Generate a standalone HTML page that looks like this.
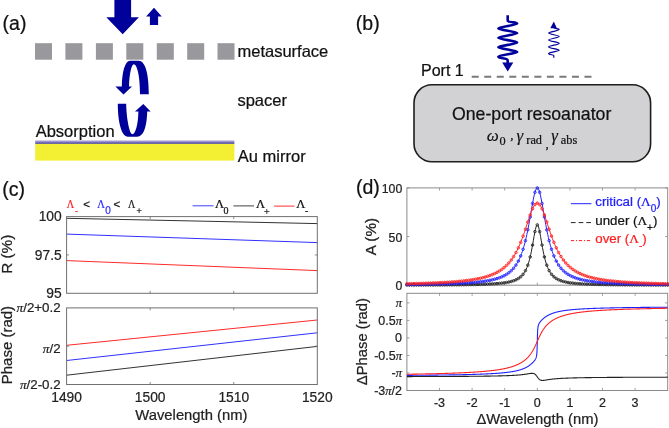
<!DOCTYPE html>
<html><head><meta charset="utf-8"><style>
html,body{margin:0;padding:0;background:#fff;width:669px;height:428px;overflow:hidden}
svg{display:block;will-change:transform}

</style></head><body>
<svg width="669" height="428" viewBox="0 0 669 428">
<text x="2.60" y="29.90" font-size="19.5" fill="#111" text-anchor="start" font-family="Liberation Sans, sans-serif"  stroke="#111" stroke-width="0.22">(a)</text>
<path d="M114.4,0 L131.1,0 L131.1,17.2 L138.9,17.2 L122.7,34.2 L106.3,17.2 L114.4,17.2 Z" fill="#00009a"/>
<path d="M154,7.8 L161.8,16.4 L158.1,16.4 L158.1,24.9 L149.9,24.9 L149.9,16.4 L146.1,16.4 Z" fill="#00009a"/>
<rect x="35" y="43.2" width="17" height="16.5" fill="#98989d"/>
<rect x="65.4" y="43.2" width="17" height="16.5" fill="#98989d"/>
<rect x="95.9" y="43.2" width="17" height="16.5" fill="#98989d"/>
<rect x="126.3" y="43.2" width="17" height="16.5" fill="#98989d"/>
<rect x="156.8" y="43.2" width="17" height="16.5" fill="#98989d"/>
<rect x="187.2" y="43.2" width="17" height="16.5" fill="#98989d"/>
<rect x="217.5" y="43.2" width="17" height="16.5" fill="#98989d"/>
<text x="237.50" y="56.60" font-size="16.5" fill="#111" text-anchor="start" font-family="Liberation Sans, sans-serif"  stroke="#111" stroke-width="0.22">metasurface</text>
<path d="M148.8,94.3 C148.8,74 145.5,60.7 138.5,60.7 L130,60.7 C125,60.9 122,72 121.8,86.4 L115.4,86.4 L123.5,94.5 L132,86.4 L129,86.4 C129.3,74 131.5,64.2 133.8,64.2 C136.8,64.2 140,75 140,94.3 Z" fill="#00009a"/>
<path d="M117.8,103.7 L126.2,103.7 C126.4,118 129.5,134.2 132.4,134.2 C135.5,134.2 138.2,124 138.4,111.5 L135,111.5 L143.3,103.9 L150.7,111.5 L147.2,111.5 C146.8,126 144,136.7 137,136.7 L128,136.7 C121.5,136.7 117.8,122 117.8,103.7 Z" fill="#00009a"/>
<text x="237.40" y="105.90" font-size="16.5" fill="#111" text-anchor="start" font-family="Liberation Sans, sans-serif"  stroke="#111" stroke-width="0.22">spacer</text>
<text x="35.70" y="137.00" font-size="16.5" fill="#111" text-anchor="start" font-family="Liberation Sans, sans-serif"  stroke="#111" stroke-width="0.22">Absorption</text>
<defs><linearGradient id="ab" x1="0" y1="0" x2="0" y2="1"><stop offset="0" stop-color="#efe8f2"/><stop offset="0.45" stop-color="#9088c8"/><stop offset="1" stop-color="#3a3a96"/></linearGradient></defs>
<rect x="35.2" y="140" width="199.2" height="3.9" fill="url(#ab)"/>
<rect x="35.2" y="143.9" width="199.2" height="16.7" fill="#f3ef32"/>
<text x="237.80" y="161.90" font-size="16.5" fill="#111" text-anchor="start" font-family="Liberation Sans, sans-serif"  stroke="#111" stroke-width="0.22">Au mirror</text>
<text x="355.80" y="30.00" font-size="19.5" fill="#111" text-anchor="start" font-family="Liberation Sans, sans-serif"  stroke="#111" stroke-width="0.22">(b)</text>
<path d="M507.7,15.3 L507.7,20.5 C507.7,23 517.2,21.5 517.2,23.6 C517.2,25.1 498.3,26.9 498.3,28.4 C498.3,29.9 517.2,31.6 517.2,33.1 C517.2,34.6 498.3,36.3 498.3,37.8 C498.3,39.3 517.2,41.0 517.2,42.5 C517.2,44.0 498.3,45.7 498.3,47.2 C498.3,48.7 517.2,50.4 517.2,51.9 C517.2,53.4 498.3,55.1 498.3,56.6 C498.3,59 507.7,57.5 507.7,60.5 L507.7,63" fill="none" stroke="#00009a" stroke-width="2.6" stroke-linejoin="round"/>
<path d="M502.2,62.4 L513.3,62.4 L507.7,71.6 Z" fill="#00009a"/>
<path d="M553.8,27.5 C553.8,29 559.2,28.3 559.2,29.6 C559.2,30.7 548.6,31.9 548.6,33.0 C548.6,34.1 559.2,35.4 559.2,36.5 C559.2,37.6 548.6,38.9 548.6,40.0 C548.6,41.1 559.2,42.3 559.2,43.4 C559.2,44.5 548.6,45.8 548.6,46.9 C548.6,48.0 559.2,49.2 559.2,50.3 C559.2,51.4 548.6,52.4 548.6,53.5 C548.6,55 553.8,54.5 553.8,55.5 L553.8,57.8" fill="none" stroke="#00009a" stroke-width="1.2"/>
<path d="M550.3,28.2 L556.9,28.2 L553.8,21.6 Z" fill="#00009a"/>
<text x="421.00" y="75.80" font-size="16" fill="#111" text-anchor="start" font-family="Liberation Sans, sans-serif"  stroke="#111" stroke-width="0.22">Port 1</text>
<line x1="471.7" y1="76.8" x2="592" y2="76.8" stroke="#7a7a7a" stroke-width="2" stroke-dasharray="7 5.53"/>
<rect x="414" y="84.8" width="236.6" height="77" rx="18" ry="18" fill="#d2d1d3" stroke="#1e1e1e" stroke-width="1.6"/>
<text x="452.00" y="120.40" font-size="17.7" fill="#111" text-anchor="start" font-family="Liberation Sans, sans-serif"  stroke="#111" stroke-width="0.22">One-port resoanator</text>
<text x="486.80" y="140.80" font-size="17" fill="#111" text-anchor="start" font-family="Liberation Serif, serif" font-style="italic" stroke="#111" stroke-width="0.15">ω</text>
<text x="499.40" y="144.60" font-size="12.3" fill="#111" text-anchor="start" font-family="Liberation Serif, serif"  stroke="#111" stroke-width="0.22">0</text>
<text x="510.30" y="138.60" font-size="13" fill="#111" text-anchor="start" font-family="Liberation Serif, serif"  stroke="#111" stroke-width="0.22">,</text>
<text x="516.60" y="140.80" font-size="17" fill="#111" text-anchor="start" font-family="Liberation Serif, serif" font-style="italic" stroke="#111" stroke-width="0.15">γ</text>
<text x="526.30" y="144.10" font-size="12.3" fill="#111" text-anchor="start" font-family="Liberation Serif, serif"  stroke="#111" stroke-width="0.22">rad</text>
<text x="545.50" y="147.50" font-size="13" fill="#111" text-anchor="start" font-family="Liberation Serif, serif"  stroke="#111" stroke-width="0.22">,</text>
<text x="551.20" y="140.80" font-size="17" fill="#111" text-anchor="start" font-family="Liberation Serif, serif" font-style="italic" stroke="#111" stroke-width="0.15">γ</text>
<text x="560.80" y="144.10" font-size="12.3" fill="#111" text-anchor="start" font-family="Liberation Serif, serif"  stroke="#111" stroke-width="0.22">abs</text>
<text x="2.20" y="196.30" font-size="19.5" fill="#111" text-anchor="start" font-family="Liberation Sans, sans-serif"  stroke="#111" stroke-width="0.22">(c)</text>
<text x="66.80" y="207.70" font-size="13" fill="#ff2020" text-anchor="start" font-family="Liberation Serif, serif" textLength="7.4" lengthAdjust="spacingAndGlyphs" stroke="#ff2020" stroke-width="0.22">Λ</text>
<text x="75.00" y="214.30" font-size="9" fill="#ff2020" text-anchor="start" font-family="Liberation Sans, sans-serif"  stroke="#ff2020" stroke-width="0.22">-</text>
<text x="83.20" y="208.30" font-size="11.5" fill="#111" text-anchor="start" font-family="Liberation Sans, sans-serif"  stroke="#111" stroke-width="0.22">&lt;</text>
<text x="97.20" y="207.80" font-size="13" fill="#2b2bff" text-anchor="start" font-family="Liberation Serif, serif" textLength="7.6" lengthAdjust="spacingAndGlyphs" stroke="#2b2bff" stroke-width="0.22">Λ</text>
<text x="105.30" y="214.30" font-size="10" fill="#2b2bff" text-anchor="start" font-family="Liberation Sans, sans-serif"  stroke="#2b2bff" stroke-width="0.22">0</text>
<text x="113.40" y="208.30" font-size="11.5" fill="#111" text-anchor="start" font-family="Liberation Sans, sans-serif"  stroke="#111" stroke-width="0.22">&lt;</text>
<text x="128.00" y="207.80" font-size="13" fill="#222" text-anchor="start" font-family="Liberation Serif, serif" textLength="7.3" lengthAdjust="spacingAndGlyphs" stroke="#222" stroke-width="0.22">Λ</text>
<text x="136.40" y="213.60" font-size="9" fill="#222" text-anchor="start" font-family="Liberation Sans, sans-serif"  stroke="#222" stroke-width="0.22">+</text>
<line x1="192.6" y1="205.8" x2="213.5" y2="205.8" stroke="#4040ff" stroke-width="1"/>
<text x="215.00" y="207.90" font-size="12.5" fill="#111" text-anchor="start" font-family="Liberation Serif, serif"  stroke="#111" stroke-width="0.22">Λ</text>
<text x="223.60" y="213.70" font-size="10" fill="#111" text-anchor="start" font-family="Liberation Serif, serif"  stroke="#111" stroke-width="0.22">0</text>
<line x1="233.4" y1="205.9" x2="254" y2="205.9" stroke="#444" stroke-width="1"/>
<text x="256.00" y="207.90" font-size="12.5" fill="#111" text-anchor="start" font-family="Liberation Serif, serif"  stroke="#111" stroke-width="0.22">Λ</text>
<text x="264.00" y="214.80" font-size="10" fill="#111" text-anchor="start" font-family="Liberation Serif, serif"  stroke="#111" stroke-width="0.22">+</text>
<line x1="274.1" y1="206.1" x2="294.5" y2="206.1" stroke="#ff3030" stroke-width="1"/>
<text x="296.20" y="207.90" font-size="12.5" fill="#111" text-anchor="start" font-family="Liberation Serif, serif"  stroke="#111" stroke-width="0.22">Λ</text>
<text x="305.00" y="214.00" font-size="10" fill="#111" text-anchor="start" font-family="Liberation Serif, serif"  stroke="#111" stroke-width="0.22">-</text>
<line x1="66.6" y1="218.3" x2="317.3" y2="223.6" stroke="#333" stroke-width="1"/>
<line x1="66.6" y1="234.1" x2="317.3" y2="242.6" stroke="#3030ff" stroke-width="1"/>
<line x1="66.6" y1="260.6" x2="317.3" y2="270.6" stroke="#ff2a2a" stroke-width="1"/>
<rect x="66.6" y="216.6" width="250.70000000000002" height="76.70000000000002" fill="none" stroke="#707070" stroke-width="1"/>
<line x1="150.17" y1="293.3" x2="150.17" y2="290.8" stroke="#707070" stroke-width="0.8"/>
<line x1="150.17" y1="216.6" x2="150.17" y2="219.1" stroke="#707070" stroke-width="0.8"/>
<line x1="233.73" y1="293.3" x2="233.73" y2="290.8" stroke="#707070" stroke-width="0.8"/>
<line x1="233.73" y1="216.6" x2="233.73" y2="219.1" stroke="#707070" stroke-width="0.8"/>
<line x1="66.6" y1="254.95" x2="69.1" y2="254.95" stroke="#707070" stroke-width="0.8"/>
<line x1="317.3" y1="254.95" x2="314.8" y2="254.95" stroke="#707070" stroke-width="0.8"/>
<text x="61.70" y="221.30" font-size="13.8" fill="#222" text-anchor="end" font-family="Liberation Sans, sans-serif"  stroke="#222" stroke-width="0.22">100</text>
<text x="61.70" y="260.00" font-size="13.8" fill="#222" text-anchor="end" font-family="Liberation Sans, sans-serif"  stroke="#222" stroke-width="0.22">97.5</text>
<text x="61.70" y="298.40" font-size="13.8" fill="#222" text-anchor="end" font-family="Liberation Sans, sans-serif"  stroke="#222" stroke-width="0.22">95</text>
<text transform="translate(11.9,254.3) rotate(-90)" font-size="15.3" fill="#222" stroke="#222" stroke-width="0.22" text-anchor="middle" font-family="Liberation Sans, sans-serif">R (%)</text>
<line x1="66.6" y1="345.3" x2="317.3" y2="320.0" stroke="#ff2a2a" stroke-width="1"/>
<line x1="66.6" y1="360.5" x2="317.3" y2="332.8" stroke="#3030ff" stroke-width="1"/>
<line x1="66.6" y1="375.2" x2="317.3" y2="346.4" stroke="#333" stroke-width="1"/>
<rect x="66.6" y="307.9" width="250.70000000000002" height="76.60000000000002" fill="none" stroke="#707070" stroke-width="1"/>
<line x1="150.17" y1="384.5" x2="150.17" y2="382.0" stroke="#707070" stroke-width="0.8"/>
<line x1="150.17" y1="307.9" x2="150.17" y2="310.4" stroke="#707070" stroke-width="0.8"/>
<line x1="233.73" y1="384.5" x2="233.73" y2="382.0" stroke="#707070" stroke-width="0.8"/>
<line x1="233.73" y1="307.9" x2="233.73" y2="310.4" stroke="#707070" stroke-width="0.8"/>
<line x1="66.6" y1="346.20" x2="69.1" y2="346.20" stroke="#707070" stroke-width="0.8"/>
<line x1="317.3" y1="346.20" x2="314.8" y2="346.20" stroke="#707070" stroke-width="0.8"/>
<text x="60.60" y="312.30" font-size="13.3" fill="#222" text-anchor="end" font-family="Liberation Sans, sans-serif"  stroke="#222" stroke-width="0.22"><tspan font-family="Liberation Serif, serif" font-style="italic">π</tspan>/2+0.2</text>
<text x="60.60" y="353.10" font-size="13.3" fill="#222" text-anchor="end" font-family="Liberation Sans, sans-serif"  stroke="#222" stroke-width="0.22"><tspan font-family="Liberation Serif, serif" font-style="italic">π</tspan>/2</text>
<text x="60.60" y="389.20" font-size="13.3" fill="#222" text-anchor="end" font-family="Liberation Sans, sans-serif"  stroke="#222" stroke-width="0.22"><tspan font-family="Liberation Serif, serif" font-style="italic">π</tspan>/2-0.2</text>
<text transform="translate(11.8,345.1) rotate(-90)" font-size="15" fill="#222" stroke="#222" stroke-width="0.22" text-anchor="middle" font-family="Liberation Sans, sans-serif">Phase (rad)</text>
<text x="66.60" y="402.00" font-size="13.8" fill="#222" text-anchor="middle" font-family="Liberation Sans, sans-serif"  stroke="#222" stroke-width="0.22">1490</text>
<text x="150.17" y="402.00" font-size="13.8" fill="#222" text-anchor="middle" font-family="Liberation Sans, sans-serif"  stroke="#222" stroke-width="0.22">1500</text>
<text x="233.73" y="402.00" font-size="13.8" fill="#222" text-anchor="middle" font-family="Liberation Sans, sans-serif"  stroke="#222" stroke-width="0.22">1510</text>
<text x="317.30" y="402.00" font-size="13.8" fill="#222" text-anchor="middle" font-family="Liberation Sans, sans-serif"  stroke="#222" stroke-width="0.22">1520</text>
<text x="191.40" y="419.60" font-size="14.8" fill="#222" text-anchor="middle" font-family="Liberation Sans, sans-serif"  stroke="#222" stroke-width="0.22">Wavelength (nm)</text>
<text x="356.00" y="194.00" font-size="19.5" fill="#111" text-anchor="start" font-family="Liberation Sans, sans-serif"  stroke="#111" stroke-width="0.22">(d)</text>
<rect x="406.9" y="187.9" width="260.80000000000007" height="97.29999999999998" fill="none" stroke="#8a8a8a" stroke-width="1"/>
<rect x="406.9" y="293.3" width="260.80000000000007" height="97.19999999999999" fill="none" stroke="#8a8a8a" stroke-width="1"/>
<line x1="439.50" y1="285.2" x2="439.50" y2="282.59999999999997" stroke="#8a8a8a" stroke-width="0.8"/>
<line x1="439.50" y1="187.9" x2="439.50" y2="190.5" stroke="#8a8a8a" stroke-width="0.8"/>
<line x1="439.50" y1="390.5" x2="439.50" y2="387.9" stroke="#8a8a8a" stroke-width="0.8"/>
<line x1="439.50" y1="293.3" x2="439.50" y2="295.90000000000003" stroke="#8a8a8a" stroke-width="0.8"/>
<text x="439.50" y="406.90" font-size="12.5" fill="#222" text-anchor="middle" font-family="Liberation Sans, sans-serif"  stroke="#222" stroke-width="0.22">-3</text>
<line x1="472.10" y1="285.2" x2="472.10" y2="282.59999999999997" stroke="#8a8a8a" stroke-width="0.8"/>
<line x1="472.10" y1="187.9" x2="472.10" y2="190.5" stroke="#8a8a8a" stroke-width="0.8"/>
<line x1="472.10" y1="390.5" x2="472.10" y2="387.9" stroke="#8a8a8a" stroke-width="0.8"/>
<line x1="472.10" y1="293.3" x2="472.10" y2="295.90000000000003" stroke="#8a8a8a" stroke-width="0.8"/>
<text x="472.10" y="406.90" font-size="12.5" fill="#222" text-anchor="middle" font-family="Liberation Sans, sans-serif"  stroke="#222" stroke-width="0.22">-2</text>
<line x1="504.70" y1="285.2" x2="504.70" y2="282.59999999999997" stroke="#8a8a8a" stroke-width="0.8"/>
<line x1="504.70" y1="187.9" x2="504.70" y2="190.5" stroke="#8a8a8a" stroke-width="0.8"/>
<line x1="504.70" y1="390.5" x2="504.70" y2="387.9" stroke="#8a8a8a" stroke-width="0.8"/>
<line x1="504.70" y1="293.3" x2="504.70" y2="295.90000000000003" stroke="#8a8a8a" stroke-width="0.8"/>
<text x="504.70" y="406.90" font-size="12.5" fill="#222" text-anchor="middle" font-family="Liberation Sans, sans-serif"  stroke="#222" stroke-width="0.22">-1</text>
<line x1="537.30" y1="285.2" x2="537.30" y2="282.59999999999997" stroke="#8a8a8a" stroke-width="0.8"/>
<line x1="537.30" y1="187.9" x2="537.30" y2="190.5" stroke="#8a8a8a" stroke-width="0.8"/>
<line x1="537.30" y1="390.5" x2="537.30" y2="387.9" stroke="#8a8a8a" stroke-width="0.8"/>
<line x1="537.30" y1="293.3" x2="537.30" y2="295.90000000000003" stroke="#8a8a8a" stroke-width="0.8"/>
<text x="537.30" y="406.90" font-size="12.5" fill="#222" text-anchor="middle" font-family="Liberation Sans, sans-serif"  stroke="#222" stroke-width="0.22">0</text>
<line x1="569.90" y1="285.2" x2="569.90" y2="282.59999999999997" stroke="#8a8a8a" stroke-width="0.8"/>
<line x1="569.90" y1="187.9" x2="569.90" y2="190.5" stroke="#8a8a8a" stroke-width="0.8"/>
<line x1="569.90" y1="390.5" x2="569.90" y2="387.9" stroke="#8a8a8a" stroke-width="0.8"/>
<line x1="569.90" y1="293.3" x2="569.90" y2="295.90000000000003" stroke="#8a8a8a" stroke-width="0.8"/>
<text x="569.90" y="406.90" font-size="12.5" fill="#222" text-anchor="middle" font-family="Liberation Sans, sans-serif"  stroke="#222" stroke-width="0.22">1</text>
<line x1="602.50" y1="285.2" x2="602.50" y2="282.59999999999997" stroke="#8a8a8a" stroke-width="0.8"/>
<line x1="602.50" y1="187.9" x2="602.50" y2="190.5" stroke="#8a8a8a" stroke-width="0.8"/>
<line x1="602.50" y1="390.5" x2="602.50" y2="387.9" stroke="#8a8a8a" stroke-width="0.8"/>
<line x1="602.50" y1="293.3" x2="602.50" y2="295.90000000000003" stroke="#8a8a8a" stroke-width="0.8"/>
<text x="602.50" y="406.90" font-size="12.5" fill="#222" text-anchor="middle" font-family="Liberation Sans, sans-serif"  stroke="#222" stroke-width="0.22">2</text>
<line x1="635.10" y1="285.2" x2="635.10" y2="282.59999999999997" stroke="#8a8a8a" stroke-width="0.8"/>
<line x1="635.10" y1="187.9" x2="635.10" y2="190.5" stroke="#8a8a8a" stroke-width="0.8"/>
<line x1="635.10" y1="390.5" x2="635.10" y2="387.9" stroke="#8a8a8a" stroke-width="0.8"/>
<line x1="635.10" y1="293.3" x2="635.10" y2="295.90000000000003" stroke="#8a8a8a" stroke-width="0.8"/>
<text x="635.10" y="406.90" font-size="12.5" fill="#222" text-anchor="middle" font-family="Liberation Sans, sans-serif"  stroke="#222" stroke-width="0.22">3</text>
<line x1="406.9" y1="285.20" x2="409.5" y2="285.20" stroke="#8a8a8a" stroke-width="0.8"/>
<line x1="667.7" y1="285.20" x2="665.1" y2="285.20" stroke="#8a8a8a" stroke-width="0.8"/>
<line x1="406.9" y1="236.55" x2="409.5" y2="236.55" stroke="#8a8a8a" stroke-width="0.8"/>
<line x1="667.7" y1="236.55" x2="665.1" y2="236.55" stroke="#8a8a8a" stroke-width="0.8"/>
<line x1="406.9" y1="187.90" x2="409.5" y2="187.90" stroke="#8a8a8a" stroke-width="0.8"/>
<line x1="667.7" y1="187.90" x2="665.1" y2="187.90" stroke="#8a8a8a" stroke-width="0.8"/>
<text x="402.30" y="192.50" font-size="12.3" fill="#222" text-anchor="end" font-family="Liberation Sans, sans-serif"  stroke="#222" stroke-width="0.22">100</text>
<text x="402.30" y="241.60" font-size="12.3" fill="#222" text-anchor="end" font-family="Liberation Sans, sans-serif"  stroke="#222" stroke-width="0.22">50</text>
<text x="402.30" y="289.80" font-size="12.3" fill="#222" text-anchor="end" font-family="Liberation Sans, sans-serif"  stroke="#222" stroke-width="0.22">0</text>
<text transform="translate(375.6,236.6) rotate(-90)" font-size="15.2" fill="#222" stroke="#222" stroke-width="0.22" text-anchor="middle" font-family="Liberation Sans, sans-serif">A (%)</text>
<line x1="406.9" y1="302.88" x2="409.5" y2="302.88" stroke="#8a8a8a" stroke-width="0.8"/>
<line x1="667.7" y1="302.88" x2="665.1" y2="302.88" stroke="#8a8a8a" stroke-width="0.8"/>
<text x="402.00" y="307.18" font-size="12.5" fill="#222" text-anchor="end" font-family="Liberation Sans, sans-serif"  stroke="#222" stroke-width="0.22"><tspan font-family="Liberation Serif, serif" font-style="italic">π</tspan></text>
<line x1="406.9" y1="320.40" x2="409.5" y2="320.40" stroke="#8a8a8a" stroke-width="0.8"/>
<line x1="667.7" y1="320.40" x2="665.1" y2="320.40" stroke="#8a8a8a" stroke-width="0.8"/>
<text x="402.00" y="324.70" font-size="12.5" fill="#222" text-anchor="end" font-family="Liberation Sans, sans-serif"  stroke="#222" stroke-width="0.22">0.5<tspan font-family="Liberation Serif, serif" font-style="italic">π</tspan></text>
<line x1="406.9" y1="337.93" x2="409.5" y2="337.93" stroke="#8a8a8a" stroke-width="0.8"/>
<line x1="667.7" y1="337.93" x2="665.1" y2="337.93" stroke="#8a8a8a" stroke-width="0.8"/>
<text x="402.00" y="342.23" font-size="12.5" fill="#222" text-anchor="end" font-family="Liberation Sans, sans-serif"  stroke="#222" stroke-width="0.22">0</text>
<line x1="406.9" y1="355.45" x2="409.5" y2="355.45" stroke="#8a8a8a" stroke-width="0.8"/>
<line x1="667.7" y1="355.45" x2="665.1" y2="355.45" stroke="#8a8a8a" stroke-width="0.8"/>
<text x="402.00" y="359.75" font-size="12.5" fill="#222" text-anchor="end" font-family="Liberation Sans, sans-serif"  stroke="#222" stroke-width="0.22">-0.5<tspan font-family="Liberation Serif, serif" font-style="italic">π</tspan></text>
<line x1="406.9" y1="372.98" x2="409.5" y2="372.98" stroke="#8a8a8a" stroke-width="0.8"/>
<line x1="667.7" y1="372.98" x2="665.1" y2="372.98" stroke="#8a8a8a" stroke-width="0.8"/>
<text x="402.00" y="377.28" font-size="12.5" fill="#222" text-anchor="end" font-family="Liberation Sans, sans-serif"  stroke="#222" stroke-width="0.22">-<tspan font-family="Liberation Serif, serif" font-style="italic">π</tspan></text>
<line x1="406.9" y1="390.50" x2="409.5" y2="390.50" stroke="#8a8a8a" stroke-width="0.8"/>
<line x1="667.7" y1="390.50" x2="665.1" y2="390.50" stroke="#8a8a8a" stroke-width="0.8"/>
<text x="402.00" y="394.80" font-size="12.5" fill="#222" text-anchor="end" font-family="Liberation Sans, sans-serif"  stroke="#222" stroke-width="0.22">-3<tspan font-family="Liberation Serif, serif" font-style="italic">π</tspan>/2</text>
<text transform="translate(367.0,341.6) rotate(-90)" font-size="14.8" fill="#222" stroke="#222" stroke-width="0.22" text-anchor="middle" font-family="Liberation Sans, sans-serif">ΔPhase (rad)</text>
<text x="537.40" y="423.80" font-size="14.8" fill="#222" text-anchor="middle" font-family="Liberation Sans, sans-serif"  stroke="#222" stroke-width="0.22">ΔWavelength (nm)</text>
<path d="M406.90,285.04 L407.55,285.04 L408.20,285.04 L408.86,285.04 L409.51,285.04 L410.16,285.03 L410.81,285.03 L411.46,285.03 L412.12,285.03 L412.77,285.03 L413.42,285.02 L414.07,285.02 L414.72,285.02 L415.38,285.02 L416.03,285.02 L416.68,285.02 L417.33,285.01 L417.98,285.01 L418.64,285.01 L419.29,285.01 L419.94,285.01 L420.59,285.00 L421.24,285.00 L421.90,285.00 L422.55,285.00 L423.20,284.99 L423.85,284.99 L424.50,284.99 L425.16,284.99 L425.81,284.98 L426.46,284.98 L427.11,284.98 L427.76,284.98 L428.42,284.97 L429.07,284.97 L429.72,284.97 L430.37,284.97 L431.02,284.96 L431.68,284.96 L432.33,284.96 L432.98,284.95 L433.63,284.95 L434.28,284.95 L434.94,284.94 L435.59,284.94 L436.24,284.94 L436.89,284.93 L437.54,284.93 L438.20,284.93 L438.85,284.92 L439.50,284.92 L440.15,284.92 L440.80,284.91 L441.46,284.91 L442.11,284.90 L442.76,284.90 L443.41,284.90 L444.06,284.89 L444.72,284.89 L445.37,284.88 L446.02,284.88 L446.67,284.87 L447.32,284.87 L447.98,284.86 L448.63,284.86 L449.28,284.85 L449.93,284.85 L450.58,284.84 L451.24,284.84 L451.89,284.83 L452.54,284.83 L453.19,284.82 L453.84,284.82 L454.50,284.81 L455.15,284.80 L455.80,284.80 L456.45,284.79 L457.10,284.78 L457.76,284.78 L458.41,284.77 L459.06,284.76 L459.71,284.76 L460.36,284.75 L461.02,284.74 L461.67,284.73 L462.32,284.72 L462.97,284.72 L463.62,284.71 L464.28,284.70 L464.93,284.69 L465.58,284.68 L466.23,284.67 L466.88,284.66 L467.54,284.65 L468.19,284.64 L468.84,284.63 L469.49,284.62 L470.14,284.61 L470.80,284.60 L471.45,284.59 L472.10,284.57 L472.75,284.56 L473.40,284.55 L474.06,284.53 L474.71,284.52 L475.36,284.51 L476.01,284.49 L476.66,284.48 L477.32,284.46 L477.97,284.44 L478.62,284.43 L479.27,284.41 L479.92,284.39 L480.58,284.37 L481.23,284.36 L481.88,284.34 L482.53,284.31 L483.18,284.29 L483.84,284.27 L484.49,284.25 L485.14,284.23 L485.79,284.20 L486.44,284.18 L487.10,284.15 L487.75,284.12 L488.40,284.09 L489.05,284.06 L489.70,284.03 L490.36,284.00 L491.01,283.97 L491.66,283.93 L492.31,283.90 L492.96,283.86 L493.62,283.82 L494.27,283.78 L494.92,283.74 L495.57,283.69 L496.22,283.64 L496.88,283.60 L497.53,283.54 L498.18,283.49 L498.83,283.43 L499.48,283.37 L500.14,283.31 L500.79,283.24 L501.44,283.18 L502.09,283.10 L502.74,283.03 L503.40,282.94 L504.05,282.86 L504.70,282.77 L505.35,282.67 L506.00,282.57 L506.66,282.46 L507.31,282.35 L507.96,282.22 L508.61,282.09 L509.26,281.96 L509.92,281.81 L510.57,281.65 L511.22,281.48 L511.87,281.30 L512.52,281.11 L513.18,280.90 L513.83,280.68 L514.48,280.43 L515.13,280.17 L515.78,279.89 L516.44,279.59 L517.09,279.25 L517.74,278.89 L518.39,278.50 L519.04,278.07 L519.70,277.60 L520.35,277.09 L521.00,276.52 L521.65,275.89 L522.30,275.20 L522.96,274.44 L523.61,273.59 L524.26,272.65 L524.91,271.60 L525.56,270.43 L526.22,269.12 L526.87,267.65 L527.52,266.00 L528.17,264.15 L528.82,262.07 L529.48,259.75 L530.13,257.16 L530.78,254.29 L531.43,251.14 L532.08,247.71 L532.74,244.06 L533.39,240.27 L534.04,236.47 L534.69,232.85 L535.34,229.63 L536.00,227.09 L536.65,225.44 L537.30,224.87 L537.95,225.44 L538.60,227.09 L539.26,229.63 L539.91,232.85 L540.56,236.47 L541.21,240.27 L541.86,244.06 L542.52,247.71 L543.17,251.14 L543.82,254.29 L544.47,257.16 L545.12,259.75 L545.78,262.07 L546.43,264.15 L547.08,266.00 L547.73,267.65 L548.38,269.12 L549.04,270.43 L549.69,271.60 L550.34,272.65 L550.99,273.59 L551.64,274.44 L552.30,275.20 L552.95,275.89 L553.60,276.52 L554.25,277.09 L554.90,277.60 L555.56,278.07 L556.21,278.50 L556.86,278.89 L557.51,279.25 L558.16,279.59 L558.82,279.89 L559.47,280.17 L560.12,280.43 L560.77,280.68 L561.42,280.90 L562.08,281.11 L562.73,281.30 L563.38,281.48 L564.03,281.65 L564.68,281.81 L565.34,281.96 L565.99,282.09 L566.64,282.22 L567.29,282.35 L567.94,282.46 L568.60,282.57 L569.25,282.67 L569.90,282.77 L570.55,282.86 L571.20,282.94 L571.86,283.03 L572.51,283.10 L573.16,283.18 L573.81,283.24 L574.46,283.31 L575.12,283.37 L575.77,283.43 L576.42,283.49 L577.07,283.54 L577.72,283.60 L578.38,283.64 L579.03,283.69 L579.68,283.74 L580.33,283.78 L580.98,283.82 L581.64,283.86 L582.29,283.90 L582.94,283.93 L583.59,283.97 L584.24,284.00 L584.90,284.03 L585.55,284.06 L586.20,284.09 L586.85,284.12 L587.50,284.15 L588.16,284.18 L588.81,284.20 L589.46,284.23 L590.11,284.25 L590.76,284.27 L591.42,284.29 L592.07,284.31 L592.72,284.34 L593.37,284.36 L594.02,284.37 L594.68,284.39 L595.33,284.41 L595.98,284.43 L596.63,284.44 L597.28,284.46 L597.94,284.48 L598.59,284.49 L599.24,284.51 L599.89,284.52 L600.54,284.53 L601.20,284.55 L601.85,284.56 L602.50,284.57 L603.15,284.59 L603.80,284.60 L604.46,284.61 L605.11,284.62 L605.76,284.63 L606.41,284.64 L607.06,284.65 L607.72,284.66 L608.37,284.67 L609.02,284.68 L609.67,284.69 L610.32,284.70 L610.98,284.71 L611.63,284.72 L612.28,284.72 L612.93,284.73 L613.58,284.74 L614.24,284.75 L614.89,284.76 L615.54,284.76 L616.19,284.77 L616.84,284.78 L617.50,284.78 L618.15,284.79 L618.80,284.80 L619.45,284.80 L620.10,284.81 L620.76,284.82 L621.41,284.82 L622.06,284.83 L622.71,284.83 L623.36,284.84 L624.02,284.84 L624.67,284.85 L625.32,284.85 L625.97,284.86 L626.62,284.86 L627.28,284.87 L627.93,284.87 L628.58,284.88 L629.23,284.88 L629.88,284.89 L630.54,284.89 L631.19,284.90 L631.84,284.90 L632.49,284.90 L633.14,284.91 L633.80,284.91 L634.45,284.92 L635.10,284.92 L635.75,284.92 L636.40,284.93 L637.06,284.93 L637.71,284.93 L638.36,284.94 L639.01,284.94 L639.66,284.94 L640.32,284.95 L640.97,284.95 L641.62,284.95 L642.27,284.96 L642.92,284.96 L643.58,284.96 L644.23,284.97 L644.88,284.97 L645.53,284.97 L646.18,284.97 L646.84,284.98 L647.49,284.98 L648.14,284.98 L648.79,284.98 L649.44,284.99 L650.10,284.99 L650.75,284.99 L651.40,284.99 L652.05,285.00 L652.70,285.00 L653.36,285.00 L654.01,285.00 L654.66,285.01 L655.31,285.01 L655.96,285.01 L656.62,285.01 L657.27,285.01 L657.92,285.02 L658.57,285.02 L659.22,285.02 L659.88,285.02 L660.53,285.02 L661.18,285.02 L661.83,285.03 L662.48,285.03 L663.14,285.03 L663.79,285.03 L664.44,285.03 L665.09,285.04 L665.74,285.04 L666.40,285.04 L667.05,285.04 L667.70,285.04" fill="none" stroke="#222222" stroke-width="1"/>
<circle cx="406.90" cy="285.04" r="1.25" fill="none" stroke="#222222" stroke-width="0.9"/>
<circle cx="409.27" cy="285.04" r="1.25" fill="none" stroke="#222222" stroke-width="0.9"/>
<circle cx="411.64" cy="285.03" r="1.25" fill="none" stroke="#222222" stroke-width="0.9"/>
<circle cx="414.01" cy="285.02" r="1.25" fill="none" stroke="#222222" stroke-width="0.9"/>
<circle cx="416.38" cy="285.02" r="1.25" fill="none" stroke="#222222" stroke-width="0.9"/>
<circle cx="418.75" cy="285.01" r="1.25" fill="none" stroke="#222222" stroke-width="0.9"/>
<circle cx="421.13" cy="285.00" r="1.25" fill="none" stroke="#222222" stroke-width="0.9"/>
<circle cx="423.50" cy="284.99" r="1.25" fill="none" stroke="#222222" stroke-width="0.9"/>
<circle cx="425.87" cy="284.98" r="1.25" fill="none" stroke="#222222" stroke-width="0.9"/>
<circle cx="428.24" cy="284.97" r="1.25" fill="none" stroke="#222222" stroke-width="0.9"/>
<circle cx="430.61" cy="284.96" r="1.25" fill="none" stroke="#222222" stroke-width="0.9"/>
<circle cx="432.98" cy="284.95" r="1.25" fill="none" stroke="#222222" stroke-width="0.9"/>
<circle cx="435.35" cy="284.94" r="1.25" fill="none" stroke="#222222" stroke-width="0.9"/>
<circle cx="437.72" cy="284.93" r="1.25" fill="none" stroke="#222222" stroke-width="0.9"/>
<circle cx="440.09" cy="284.92" r="1.25" fill="none" stroke="#222222" stroke-width="0.9"/>
<circle cx="442.46" cy="284.90" r="1.25" fill="none" stroke="#222222" stroke-width="0.9"/>
<circle cx="444.83" cy="284.89" r="1.25" fill="none" stroke="#222222" stroke-width="0.9"/>
<circle cx="447.21" cy="284.87" r="1.25" fill="none" stroke="#222222" stroke-width="0.9"/>
<circle cx="449.58" cy="284.85" r="1.25" fill="none" stroke="#222222" stroke-width="0.9"/>
<circle cx="451.95" cy="284.83" r="1.25" fill="none" stroke="#222222" stroke-width="0.9"/>
<circle cx="454.32" cy="284.81" r="1.25" fill="none" stroke="#222222" stroke-width="0.9"/>
<circle cx="456.69" cy="284.79" r="1.25" fill="none" stroke="#222222" stroke-width="0.9"/>
<circle cx="459.06" cy="284.76" r="1.25" fill="none" stroke="#222222" stroke-width="0.9"/>
<circle cx="461.43" cy="284.74" r="1.25" fill="none" stroke="#222222" stroke-width="0.9"/>
<circle cx="463.80" cy="284.71" r="1.25" fill="none" stroke="#222222" stroke-width="0.9"/>
<circle cx="466.17" cy="284.67" r="1.25" fill="none" stroke="#222222" stroke-width="0.9"/>
<circle cx="468.54" cy="284.64" r="1.25" fill="none" stroke="#222222" stroke-width="0.9"/>
<circle cx="470.91" cy="284.59" r="1.25" fill="none" stroke="#222222" stroke-width="0.9"/>
<circle cx="473.29" cy="284.55" r="1.25" fill="none" stroke="#222222" stroke-width="0.9"/>
<circle cx="475.66" cy="284.50" r="1.25" fill="none" stroke="#222222" stroke-width="0.9"/>
<circle cx="478.03" cy="284.44" r="1.25" fill="none" stroke="#222222" stroke-width="0.9"/>
<circle cx="480.40" cy="284.38" r="1.25" fill="none" stroke="#222222" stroke-width="0.9"/>
<circle cx="482.77" cy="284.31" r="1.25" fill="none" stroke="#222222" stroke-width="0.9"/>
<circle cx="485.14" cy="284.23" r="1.25" fill="none" stroke="#222222" stroke-width="0.9"/>
<circle cx="487.51" cy="284.13" r="1.25" fill="none" stroke="#222222" stroke-width="0.9"/>
<circle cx="489.88" cy="284.03" r="1.25" fill="none" stroke="#222222" stroke-width="0.9"/>
<circle cx="492.25" cy="283.90" r="1.25" fill="none" stroke="#222222" stroke-width="0.9"/>
<circle cx="494.62" cy="283.76" r="1.25" fill="none" stroke="#222222" stroke-width="0.9"/>
<circle cx="496.99" cy="283.59" r="1.25" fill="none" stroke="#222222" stroke-width="0.9"/>
<circle cx="499.37" cy="283.38" r="1.25" fill="none" stroke="#222222" stroke-width="0.9"/>
<circle cx="501.74" cy="283.14" r="1.25" fill="none" stroke="#222222" stroke-width="0.9"/>
<circle cx="504.11" cy="282.85" r="1.25" fill="none" stroke="#222222" stroke-width="0.9"/>
<circle cx="506.48" cy="282.49" r="1.25" fill="none" stroke="#222222" stroke-width="0.9"/>
<circle cx="508.85" cy="282.05" r="1.25" fill="none" stroke="#222222" stroke-width="0.9"/>
<circle cx="511.22" cy="281.48" r="1.25" fill="none" stroke="#222222" stroke-width="0.9"/>
<circle cx="513.59" cy="280.76" r="1.25" fill="none" stroke="#222222" stroke-width="0.9"/>
<circle cx="515.96" cy="279.81" r="1.25" fill="none" stroke="#222222" stroke-width="0.9"/>
<circle cx="518.33" cy="278.54" r="1.25" fill="none" stroke="#222222" stroke-width="0.9"/>
<circle cx="520.70" cy="276.78" r="1.25" fill="none" stroke="#222222" stroke-width="0.9"/>
<circle cx="523.07" cy="274.29" r="1.25" fill="none" stroke="#222222" stroke-width="0.9"/>
<circle cx="525.45" cy="270.65" r="1.25" fill="none" stroke="#222222" stroke-width="0.9"/>
<circle cx="527.82" cy="265.18" r="1.25" fill="none" stroke="#222222" stroke-width="0.9"/>
<circle cx="530.19" cy="256.91" r="1.25" fill="none" stroke="#222222" stroke-width="0.9"/>
<circle cx="532.56" cy="245.07" r="1.25" fill="none" stroke="#222222" stroke-width="0.9"/>
<circle cx="534.93" cy="231.62" r="1.25" fill="none" stroke="#222222" stroke-width="0.9"/>
<circle cx="537.30" cy="224.87" r="1.25" fill="none" stroke="#222222" stroke-width="0.9"/>
<circle cx="539.67" cy="231.62" r="1.25" fill="none" stroke="#222222" stroke-width="0.9"/>
<circle cx="542.04" cy="245.07" r="1.25" fill="none" stroke="#222222" stroke-width="0.9"/>
<circle cx="544.41" cy="256.91" r="1.25" fill="none" stroke="#222222" stroke-width="0.9"/>
<circle cx="546.78" cy="265.18" r="1.25" fill="none" stroke="#222222" stroke-width="0.9"/>
<circle cx="549.15" cy="270.65" r="1.25" fill="none" stroke="#222222" stroke-width="0.9"/>
<circle cx="551.53" cy="274.29" r="1.25" fill="none" stroke="#222222" stroke-width="0.9"/>
<circle cx="553.90" cy="276.78" r="1.25" fill="none" stroke="#222222" stroke-width="0.9"/>
<circle cx="556.27" cy="278.54" r="1.25" fill="none" stroke="#222222" stroke-width="0.9"/>
<circle cx="558.64" cy="279.81" r="1.25" fill="none" stroke="#222222" stroke-width="0.9"/>
<circle cx="561.01" cy="280.76" r="1.25" fill="none" stroke="#222222" stroke-width="0.9"/>
<circle cx="563.38" cy="281.48" r="1.25" fill="none" stroke="#222222" stroke-width="0.9"/>
<circle cx="565.75" cy="282.05" r="1.25" fill="none" stroke="#222222" stroke-width="0.9"/>
<circle cx="568.12" cy="282.49" r="1.25" fill="none" stroke="#222222" stroke-width="0.9"/>
<circle cx="570.49" cy="282.85" r="1.25" fill="none" stroke="#222222" stroke-width="0.9"/>
<circle cx="572.86" cy="283.14" r="1.25" fill="none" stroke="#222222" stroke-width="0.9"/>
<circle cx="575.23" cy="283.38" r="1.25" fill="none" stroke="#222222" stroke-width="0.9"/>
<circle cx="577.61" cy="283.59" r="1.25" fill="none" stroke="#222222" stroke-width="0.9"/>
<circle cx="579.98" cy="283.76" r="1.25" fill="none" stroke="#222222" stroke-width="0.9"/>
<circle cx="582.35" cy="283.90" r="1.25" fill="none" stroke="#222222" stroke-width="0.9"/>
<circle cx="584.72" cy="284.03" r="1.25" fill="none" stroke="#222222" stroke-width="0.9"/>
<circle cx="587.09" cy="284.13" r="1.25" fill="none" stroke="#222222" stroke-width="0.9"/>
<circle cx="589.46" cy="284.23" r="1.25" fill="none" stroke="#222222" stroke-width="0.9"/>
<circle cx="591.83" cy="284.31" r="1.25" fill="none" stroke="#222222" stroke-width="0.9"/>
<circle cx="594.20" cy="284.38" r="1.25" fill="none" stroke="#222222" stroke-width="0.9"/>
<circle cx="596.57" cy="284.44" r="1.25" fill="none" stroke="#222222" stroke-width="0.9"/>
<circle cx="598.94" cy="284.50" r="1.25" fill="none" stroke="#222222" stroke-width="0.9"/>
<circle cx="601.31" cy="284.55" r="1.25" fill="none" stroke="#222222" stroke-width="0.9"/>
<circle cx="603.69" cy="284.59" r="1.25" fill="none" stroke="#222222" stroke-width="0.9"/>
<circle cx="606.06" cy="284.64" r="1.25" fill="none" stroke="#222222" stroke-width="0.9"/>
<circle cx="608.43" cy="284.67" r="1.25" fill="none" stroke="#222222" stroke-width="0.9"/>
<circle cx="610.80" cy="284.71" r="1.25" fill="none" stroke="#222222" stroke-width="0.9"/>
<circle cx="613.17" cy="284.74" r="1.25" fill="none" stroke="#222222" stroke-width="0.9"/>
<circle cx="615.54" cy="284.76" r="1.25" fill="none" stroke="#222222" stroke-width="0.9"/>
<circle cx="617.91" cy="284.79" r="1.25" fill="none" stroke="#222222" stroke-width="0.9"/>
<circle cx="620.28" cy="284.81" r="1.25" fill="none" stroke="#222222" stroke-width="0.9"/>
<circle cx="622.65" cy="284.83" r="1.25" fill="none" stroke="#222222" stroke-width="0.9"/>
<circle cx="625.02" cy="284.85" r="1.25" fill="none" stroke="#222222" stroke-width="0.9"/>
<circle cx="627.39" cy="284.87" r="1.25" fill="none" stroke="#222222" stroke-width="0.9"/>
<circle cx="629.77" cy="284.89" r="1.25" fill="none" stroke="#222222" stroke-width="0.9"/>
<circle cx="632.14" cy="284.90" r="1.25" fill="none" stroke="#222222" stroke-width="0.9"/>
<circle cx="634.51" cy="284.92" r="1.25" fill="none" stroke="#222222" stroke-width="0.9"/>
<circle cx="636.88" cy="284.93" r="1.25" fill="none" stroke="#222222" stroke-width="0.9"/>
<circle cx="639.25" cy="284.94" r="1.25" fill="none" stroke="#222222" stroke-width="0.9"/>
<circle cx="641.62" cy="284.95" r="1.25" fill="none" stroke="#222222" stroke-width="0.9"/>
<circle cx="643.99" cy="284.96" r="1.25" fill="none" stroke="#222222" stroke-width="0.9"/>
<circle cx="646.36" cy="284.97" r="1.25" fill="none" stroke="#222222" stroke-width="0.9"/>
<circle cx="648.73" cy="284.98" r="1.25" fill="none" stroke="#222222" stroke-width="0.9"/>
<circle cx="651.10" cy="284.99" r="1.25" fill="none" stroke="#222222" stroke-width="0.9"/>
<circle cx="653.47" cy="285.00" r="1.25" fill="none" stroke="#222222" stroke-width="0.9"/>
<circle cx="655.85" cy="285.01" r="1.25" fill="none" stroke="#222222" stroke-width="0.9"/>
<circle cx="658.22" cy="285.02" r="1.25" fill="none" stroke="#222222" stroke-width="0.9"/>
<circle cx="660.59" cy="285.02" r="1.25" fill="none" stroke="#222222" stroke-width="0.9"/>
<circle cx="662.96" cy="285.03" r="1.25" fill="none" stroke="#222222" stroke-width="0.9"/>
<circle cx="665.33" cy="285.04" r="1.25" fill="none" stroke="#222222" stroke-width="0.9"/>
<circle cx="667.70" cy="285.04" r="1.25" fill="none" stroke="#222222" stroke-width="0.9"/>
<path d="M406.90,284.53 L407.55,284.52 L408.20,284.51 L408.86,284.51 L409.51,284.50 L410.16,284.49 L410.81,284.48 L411.46,284.48 L412.12,284.47 L412.77,284.46 L413.42,284.45 L414.07,284.45 L414.72,284.44 L415.38,284.43 L416.03,284.42 L416.68,284.41 L417.33,284.41 L417.98,284.40 L418.64,284.39 L419.29,284.38 L419.94,284.37 L420.59,284.36 L421.24,284.35 L421.90,284.34 L422.55,284.33 L423.20,284.32 L423.85,284.31 L424.50,284.30 L425.16,284.29 L425.81,284.28 L426.46,284.27 L427.11,284.26 L427.76,284.25 L428.42,284.24 L429.07,284.23 L429.72,284.21 L430.37,284.20 L431.02,284.19 L431.68,284.18 L432.33,284.16 L432.98,284.15 L433.63,284.14 L434.28,284.13 L434.94,284.11 L435.59,284.10 L436.24,284.08 L436.89,284.07 L437.54,284.05 L438.20,284.04 L438.85,284.02 L439.50,284.01 L440.15,283.99 L440.80,283.98 L441.46,283.96 L442.11,283.94 L442.76,283.93 L443.41,283.91 L444.06,283.89 L444.72,283.87 L445.37,283.85 L446.02,283.83 L446.67,283.82 L447.32,283.80 L447.98,283.78 L448.63,283.75 L449.28,283.73 L449.93,283.71 L450.58,283.69 L451.24,283.67 L451.89,283.64 L452.54,283.62 L453.19,283.60 L453.84,283.57 L454.50,283.55 L455.15,283.52 L455.80,283.49 L456.45,283.47 L457.10,283.44 L457.76,283.41 L458.41,283.38 L459.06,283.35 L459.71,283.32 L460.36,283.29 L461.02,283.26 L461.67,283.22 L462.32,283.19 L462.97,283.16 L463.62,283.12 L464.28,283.08 L464.93,283.05 L465.58,283.01 L466.23,282.97 L466.88,282.93 L467.54,282.89 L468.19,282.84 L468.84,282.80 L469.49,282.75 L470.14,282.71 L470.80,282.66 L471.45,282.61 L472.10,282.56 L472.75,282.51 L473.40,282.45 L474.06,282.40 L474.71,282.34 L475.36,282.28 L476.01,282.22 L476.66,282.16 L477.32,282.10 L477.97,282.03 L478.62,281.96 L479.27,281.89 L479.92,281.82 L480.58,281.74 L481.23,281.66 L481.88,281.58 L482.53,281.50 L483.18,281.41 L483.84,281.33 L484.49,281.23 L485.14,281.14 L485.79,281.04 L486.44,280.94 L487.10,280.83 L487.75,280.72 L488.40,280.60 L489.05,280.48 L489.70,280.36 L490.36,280.23 L491.01,280.10 L491.66,279.96 L492.31,279.82 L492.96,279.67 L493.62,279.51 L494.27,279.35 L494.92,279.17 L495.57,279.00 L496.22,278.81 L496.88,278.62 L497.53,278.42 L498.18,278.20 L498.83,277.98 L499.48,277.75 L500.14,277.51 L500.79,277.25 L501.44,276.99 L502.09,276.71 L502.74,276.41 L503.40,276.10 L504.05,275.78 L504.70,275.43 L505.35,275.07 L506.00,274.69 L506.66,274.29 L507.31,273.87 L507.96,273.42 L508.61,272.95 L509.26,272.45 L509.92,271.92 L510.57,271.35 L511.22,270.76 L511.87,270.12 L512.52,269.45 L513.18,268.73 L513.83,267.97 L514.48,267.16 L515.13,266.29 L515.78,265.36 L516.44,264.37 L517.09,263.31 L517.74,262.18 L518.39,260.97 L519.04,259.67 L519.70,258.28 L520.35,256.78 L521.00,255.18 L521.65,253.46 L522.30,251.61 L522.96,249.63 L523.61,247.51 L524.26,245.23 L524.91,242.79 L525.56,240.19 L526.22,237.42 L526.87,234.47 L527.52,231.35 L528.17,228.06 L528.82,224.61 L529.48,221.03 L530.13,217.34 L530.78,213.58 L531.43,209.80 L532.08,206.06 L532.74,202.44 L533.39,199.02 L534.04,195.90 L534.69,193.18 L535.34,190.94 L536.00,189.28 L536.65,188.25 L537.30,187.90 L537.95,188.25 L538.60,189.28 L539.26,190.94 L539.91,193.18 L540.56,195.90 L541.21,199.02 L541.86,202.44 L542.52,206.06 L543.17,209.80 L543.82,213.58 L544.47,217.34 L545.12,221.03 L545.78,224.61 L546.43,228.06 L547.08,231.35 L547.73,234.47 L548.38,237.42 L549.04,240.19 L549.69,242.79 L550.34,245.23 L550.99,247.51 L551.64,249.63 L552.30,251.61 L552.95,253.46 L553.60,255.18 L554.25,256.78 L554.90,258.28 L555.56,259.67 L556.21,260.97 L556.86,262.18 L557.51,263.31 L558.16,264.37 L558.82,265.36 L559.47,266.29 L560.12,267.16 L560.77,267.97 L561.42,268.73 L562.08,269.45 L562.73,270.12 L563.38,270.76 L564.03,271.35 L564.68,271.92 L565.34,272.45 L565.99,272.95 L566.64,273.42 L567.29,273.87 L567.94,274.29 L568.60,274.69 L569.25,275.07 L569.90,275.43 L570.55,275.78 L571.20,276.10 L571.86,276.41 L572.51,276.71 L573.16,276.99 L573.81,277.25 L574.46,277.51 L575.12,277.75 L575.77,277.98 L576.42,278.20 L577.07,278.42 L577.72,278.62 L578.38,278.81 L579.03,279.00 L579.68,279.17 L580.33,279.35 L580.98,279.51 L581.64,279.67 L582.29,279.82 L582.94,279.96 L583.59,280.10 L584.24,280.23 L584.90,280.36 L585.55,280.48 L586.20,280.60 L586.85,280.72 L587.50,280.83 L588.16,280.94 L588.81,281.04 L589.46,281.14 L590.11,281.23 L590.76,281.33 L591.42,281.41 L592.07,281.50 L592.72,281.58 L593.37,281.66 L594.02,281.74 L594.68,281.82 L595.33,281.89 L595.98,281.96 L596.63,282.03 L597.28,282.10 L597.94,282.16 L598.59,282.22 L599.24,282.28 L599.89,282.34 L600.54,282.40 L601.20,282.45 L601.85,282.51 L602.50,282.56 L603.15,282.61 L603.80,282.66 L604.46,282.71 L605.11,282.75 L605.76,282.80 L606.41,282.84 L607.06,282.89 L607.72,282.93 L608.37,282.97 L609.02,283.01 L609.67,283.05 L610.32,283.08 L610.98,283.12 L611.63,283.16 L612.28,283.19 L612.93,283.22 L613.58,283.26 L614.24,283.29 L614.89,283.32 L615.54,283.35 L616.19,283.38 L616.84,283.41 L617.50,283.44 L618.15,283.47 L618.80,283.49 L619.45,283.52 L620.10,283.55 L620.76,283.57 L621.41,283.60 L622.06,283.62 L622.71,283.64 L623.36,283.67 L624.02,283.69 L624.67,283.71 L625.32,283.73 L625.97,283.75 L626.62,283.78 L627.28,283.80 L627.93,283.82 L628.58,283.83 L629.23,283.85 L629.88,283.87 L630.54,283.89 L631.19,283.91 L631.84,283.93 L632.49,283.94 L633.14,283.96 L633.80,283.98 L634.45,283.99 L635.10,284.01 L635.75,284.02 L636.40,284.04 L637.06,284.05 L637.71,284.07 L638.36,284.08 L639.01,284.10 L639.66,284.11 L640.32,284.13 L640.97,284.14 L641.62,284.15 L642.27,284.16 L642.92,284.18 L643.58,284.19 L644.23,284.20 L644.88,284.21 L645.53,284.23 L646.18,284.24 L646.84,284.25 L647.49,284.26 L648.14,284.27 L648.79,284.28 L649.44,284.29 L650.10,284.30 L650.75,284.31 L651.40,284.32 L652.05,284.33 L652.70,284.34 L653.36,284.35 L654.01,284.36 L654.66,284.37 L655.31,284.38 L655.96,284.39 L656.62,284.40 L657.27,284.41 L657.92,284.41 L658.57,284.42 L659.22,284.43 L659.88,284.44 L660.53,284.45 L661.18,284.45 L661.83,284.46 L662.48,284.47 L663.14,284.48 L663.79,284.48 L664.44,284.49 L665.09,284.50 L665.74,284.51 L666.40,284.51 L667.05,284.52 L667.70,284.53" fill="none" stroke="#2020ff" stroke-width="1"/>
<circle cx="406.90" cy="284.53" r="1.25" fill="none" stroke="#2020ff" stroke-width="0.9"/>
<circle cx="409.27" cy="284.50" r="1.25" fill="none" stroke="#2020ff" stroke-width="0.9"/>
<circle cx="411.64" cy="284.47" r="1.25" fill="none" stroke="#2020ff" stroke-width="0.9"/>
<circle cx="414.01" cy="284.45" r="1.25" fill="none" stroke="#2020ff" stroke-width="0.9"/>
<circle cx="416.38" cy="284.42" r="1.25" fill="none" stroke="#2020ff" stroke-width="0.9"/>
<circle cx="418.75" cy="284.39" r="1.25" fill="none" stroke="#2020ff" stroke-width="0.9"/>
<circle cx="421.13" cy="284.35" r="1.25" fill="none" stroke="#2020ff" stroke-width="0.9"/>
<circle cx="423.50" cy="284.32" r="1.25" fill="none" stroke="#2020ff" stroke-width="0.9"/>
<circle cx="425.87" cy="284.28" r="1.25" fill="none" stroke="#2020ff" stroke-width="0.9"/>
<circle cx="428.24" cy="284.24" r="1.25" fill="none" stroke="#2020ff" stroke-width="0.9"/>
<circle cx="430.61" cy="284.20" r="1.25" fill="none" stroke="#2020ff" stroke-width="0.9"/>
<circle cx="432.98" cy="284.15" r="1.25" fill="none" stroke="#2020ff" stroke-width="0.9"/>
<circle cx="435.35" cy="284.10" r="1.25" fill="none" stroke="#2020ff" stroke-width="0.9"/>
<circle cx="437.72" cy="284.05" r="1.25" fill="none" stroke="#2020ff" stroke-width="0.9"/>
<circle cx="440.09" cy="283.99" r="1.25" fill="none" stroke="#2020ff" stroke-width="0.9"/>
<circle cx="442.46" cy="283.93" r="1.25" fill="none" stroke="#2020ff" stroke-width="0.9"/>
<circle cx="444.83" cy="283.87" r="1.25" fill="none" stroke="#2020ff" stroke-width="0.9"/>
<circle cx="447.21" cy="283.80" r="1.25" fill="none" stroke="#2020ff" stroke-width="0.9"/>
<circle cx="449.58" cy="283.72" r="1.25" fill="none" stroke="#2020ff" stroke-width="0.9"/>
<circle cx="451.95" cy="283.64" r="1.25" fill="none" stroke="#2020ff" stroke-width="0.9"/>
<circle cx="454.32" cy="283.55" r="1.25" fill="none" stroke="#2020ff" stroke-width="0.9"/>
<circle cx="456.69" cy="283.46" r="1.25" fill="none" stroke="#2020ff" stroke-width="0.9"/>
<circle cx="459.06" cy="283.35" r="1.25" fill="none" stroke="#2020ff" stroke-width="0.9"/>
<circle cx="461.43" cy="283.24" r="1.25" fill="none" stroke="#2020ff" stroke-width="0.9"/>
<circle cx="463.80" cy="283.11" r="1.25" fill="none" stroke="#2020ff" stroke-width="0.9"/>
<circle cx="466.17" cy="282.97" r="1.25" fill="none" stroke="#2020ff" stroke-width="0.9"/>
<circle cx="468.54" cy="282.82" r="1.25" fill="none" stroke="#2020ff" stroke-width="0.9"/>
<circle cx="470.91" cy="282.65" r="1.25" fill="none" stroke="#2020ff" stroke-width="0.9"/>
<circle cx="473.29" cy="282.46" r="1.25" fill="none" stroke="#2020ff" stroke-width="0.9"/>
<circle cx="475.66" cy="282.26" r="1.25" fill="none" stroke="#2020ff" stroke-width="0.9"/>
<circle cx="478.03" cy="282.02" r="1.25" fill="none" stroke="#2020ff" stroke-width="0.9"/>
<circle cx="480.40" cy="281.76" r="1.25" fill="none" stroke="#2020ff" stroke-width="0.9"/>
<circle cx="482.77" cy="281.47" r="1.25" fill="none" stroke="#2020ff" stroke-width="0.9"/>
<circle cx="485.14" cy="281.14" r="1.25" fill="none" stroke="#2020ff" stroke-width="0.9"/>
<circle cx="487.51" cy="280.76" r="1.25" fill="none" stroke="#2020ff" stroke-width="0.9"/>
<circle cx="489.88" cy="280.33" r="1.25" fill="none" stroke="#2020ff" stroke-width="0.9"/>
<circle cx="492.25" cy="279.83" r="1.25" fill="none" stroke="#2020ff" stroke-width="0.9"/>
<circle cx="494.62" cy="279.25" r="1.25" fill="none" stroke="#2020ff" stroke-width="0.9"/>
<circle cx="496.99" cy="278.58" r="1.25" fill="none" stroke="#2020ff" stroke-width="0.9"/>
<circle cx="499.37" cy="277.79" r="1.25" fill="none" stroke="#2020ff" stroke-width="0.9"/>
<circle cx="501.74" cy="276.86" r="1.25" fill="none" stroke="#2020ff" stroke-width="0.9"/>
<circle cx="504.11" cy="275.75" r="1.25" fill="none" stroke="#2020ff" stroke-width="0.9"/>
<circle cx="506.48" cy="274.40" r="1.25" fill="none" stroke="#2020ff" stroke-width="0.9"/>
<circle cx="508.85" cy="272.77" r="1.25" fill="none" stroke="#2020ff" stroke-width="0.9"/>
<circle cx="511.22" cy="270.76" r="1.25" fill="none" stroke="#2020ff" stroke-width="0.9"/>
<circle cx="513.59" cy="268.25" r="1.25" fill="none" stroke="#2020ff" stroke-width="0.9"/>
<circle cx="515.96" cy="265.10" r="1.25" fill="none" stroke="#2020ff" stroke-width="0.9"/>
<circle cx="518.33" cy="261.08" r="1.25" fill="none" stroke="#2020ff" stroke-width="0.9"/>
<circle cx="520.70" cy="255.92" r="1.25" fill="none" stroke="#2020ff" stroke-width="0.9"/>
<circle cx="523.07" cy="249.25" r="1.25" fill="none" stroke="#2020ff" stroke-width="0.9"/>
<circle cx="525.45" cy="240.68" r="1.25" fill="none" stroke="#2020ff" stroke-width="0.9"/>
<circle cx="527.82" cy="229.87" r="1.25" fill="none" stroke="#2020ff" stroke-width="0.9"/>
<circle cx="530.19" cy="217.00" r="1.25" fill="none" stroke="#2020ff" stroke-width="0.9"/>
<circle cx="532.56" cy="203.41" r="1.25" fill="none" stroke="#2020ff" stroke-width="0.9"/>
<circle cx="534.93" cy="192.30" r="1.25" fill="none" stroke="#2020ff" stroke-width="0.9"/>
<circle cx="537.30" cy="187.90" r="1.25" fill="none" stroke="#2020ff" stroke-width="0.9"/>
<circle cx="539.67" cy="192.30" r="1.25" fill="none" stroke="#2020ff" stroke-width="0.9"/>
<circle cx="542.04" cy="203.41" r="1.25" fill="none" stroke="#2020ff" stroke-width="0.9"/>
<circle cx="544.41" cy="217.00" r="1.25" fill="none" stroke="#2020ff" stroke-width="0.9"/>
<circle cx="546.78" cy="229.87" r="1.25" fill="none" stroke="#2020ff" stroke-width="0.9"/>
<circle cx="549.15" cy="240.68" r="1.25" fill="none" stroke="#2020ff" stroke-width="0.9"/>
<circle cx="551.53" cy="249.25" r="1.25" fill="none" stroke="#2020ff" stroke-width="0.9"/>
<circle cx="553.90" cy="255.92" r="1.25" fill="none" stroke="#2020ff" stroke-width="0.9"/>
<circle cx="556.27" cy="261.08" r="1.25" fill="none" stroke="#2020ff" stroke-width="0.9"/>
<circle cx="558.64" cy="265.10" r="1.25" fill="none" stroke="#2020ff" stroke-width="0.9"/>
<circle cx="561.01" cy="268.25" r="1.25" fill="none" stroke="#2020ff" stroke-width="0.9"/>
<circle cx="563.38" cy="270.76" r="1.25" fill="none" stroke="#2020ff" stroke-width="0.9"/>
<circle cx="565.75" cy="272.77" r="1.25" fill="none" stroke="#2020ff" stroke-width="0.9"/>
<circle cx="568.12" cy="274.40" r="1.25" fill="none" stroke="#2020ff" stroke-width="0.9"/>
<circle cx="570.49" cy="275.75" r="1.25" fill="none" stroke="#2020ff" stroke-width="0.9"/>
<circle cx="572.86" cy="276.86" r="1.25" fill="none" stroke="#2020ff" stroke-width="0.9"/>
<circle cx="575.23" cy="277.79" r="1.25" fill="none" stroke="#2020ff" stroke-width="0.9"/>
<circle cx="577.61" cy="278.58" r="1.25" fill="none" stroke="#2020ff" stroke-width="0.9"/>
<circle cx="579.98" cy="279.25" r="1.25" fill="none" stroke="#2020ff" stroke-width="0.9"/>
<circle cx="582.35" cy="279.83" r="1.25" fill="none" stroke="#2020ff" stroke-width="0.9"/>
<circle cx="584.72" cy="280.33" r="1.25" fill="none" stroke="#2020ff" stroke-width="0.9"/>
<circle cx="587.09" cy="280.76" r="1.25" fill="none" stroke="#2020ff" stroke-width="0.9"/>
<circle cx="589.46" cy="281.14" r="1.25" fill="none" stroke="#2020ff" stroke-width="0.9"/>
<circle cx="591.83" cy="281.47" r="1.25" fill="none" stroke="#2020ff" stroke-width="0.9"/>
<circle cx="594.20" cy="281.76" r="1.25" fill="none" stroke="#2020ff" stroke-width="0.9"/>
<circle cx="596.57" cy="282.02" r="1.25" fill="none" stroke="#2020ff" stroke-width="0.9"/>
<circle cx="598.94" cy="282.26" r="1.25" fill="none" stroke="#2020ff" stroke-width="0.9"/>
<circle cx="601.31" cy="282.46" r="1.25" fill="none" stroke="#2020ff" stroke-width="0.9"/>
<circle cx="603.69" cy="282.65" r="1.25" fill="none" stroke="#2020ff" stroke-width="0.9"/>
<circle cx="606.06" cy="282.82" r="1.25" fill="none" stroke="#2020ff" stroke-width="0.9"/>
<circle cx="608.43" cy="282.97" r="1.25" fill="none" stroke="#2020ff" stroke-width="0.9"/>
<circle cx="610.80" cy="283.11" r="1.25" fill="none" stroke="#2020ff" stroke-width="0.9"/>
<circle cx="613.17" cy="283.24" r="1.25" fill="none" stroke="#2020ff" stroke-width="0.9"/>
<circle cx="615.54" cy="283.35" r="1.25" fill="none" stroke="#2020ff" stroke-width="0.9"/>
<circle cx="617.91" cy="283.46" r="1.25" fill="none" stroke="#2020ff" stroke-width="0.9"/>
<circle cx="620.28" cy="283.55" r="1.25" fill="none" stroke="#2020ff" stroke-width="0.9"/>
<circle cx="622.65" cy="283.64" r="1.25" fill="none" stroke="#2020ff" stroke-width="0.9"/>
<circle cx="625.02" cy="283.72" r="1.25" fill="none" stroke="#2020ff" stroke-width="0.9"/>
<circle cx="627.39" cy="283.80" r="1.25" fill="none" stroke="#2020ff" stroke-width="0.9"/>
<circle cx="629.77" cy="283.87" r="1.25" fill="none" stroke="#2020ff" stroke-width="0.9"/>
<circle cx="632.14" cy="283.93" r="1.25" fill="none" stroke="#2020ff" stroke-width="0.9"/>
<circle cx="634.51" cy="283.99" r="1.25" fill="none" stroke="#2020ff" stroke-width="0.9"/>
<circle cx="636.88" cy="284.05" r="1.25" fill="none" stroke="#2020ff" stroke-width="0.9"/>
<circle cx="639.25" cy="284.10" r="1.25" fill="none" stroke="#2020ff" stroke-width="0.9"/>
<circle cx="641.62" cy="284.15" r="1.25" fill="none" stroke="#2020ff" stroke-width="0.9"/>
<circle cx="643.99" cy="284.20" r="1.25" fill="none" stroke="#2020ff" stroke-width="0.9"/>
<circle cx="646.36" cy="284.24" r="1.25" fill="none" stroke="#2020ff" stroke-width="0.9"/>
<circle cx="648.73" cy="284.28" r="1.25" fill="none" stroke="#2020ff" stroke-width="0.9"/>
<circle cx="651.10" cy="284.32" r="1.25" fill="none" stroke="#2020ff" stroke-width="0.9"/>
<circle cx="653.47" cy="284.35" r="1.25" fill="none" stroke="#2020ff" stroke-width="0.9"/>
<circle cx="655.85" cy="284.39" r="1.25" fill="none" stroke="#2020ff" stroke-width="0.9"/>
<circle cx="658.22" cy="284.42" r="1.25" fill="none" stroke="#2020ff" stroke-width="0.9"/>
<circle cx="660.59" cy="284.45" r="1.25" fill="none" stroke="#2020ff" stroke-width="0.9"/>
<circle cx="662.96" cy="284.47" r="1.25" fill="none" stroke="#2020ff" stroke-width="0.9"/>
<circle cx="665.33" cy="284.50" r="1.25" fill="none" stroke="#2020ff" stroke-width="0.9"/>
<circle cx="667.70" cy="284.53" r="1.25" fill="none" stroke="#2020ff" stroke-width="0.9"/>
<path d="M406.90,283.77 L407.55,283.76 L408.20,283.74 L408.86,283.73 L409.51,283.71 L410.16,283.70 L410.81,283.68 L411.46,283.67 L412.12,283.65 L412.77,283.64 L413.42,283.62 L414.07,283.60 L414.72,283.59 L415.38,283.57 L416.03,283.55 L416.68,283.54 L417.33,283.52 L417.98,283.50 L418.64,283.48 L419.29,283.46 L419.94,283.44 L420.59,283.43 L421.24,283.41 L421.90,283.39 L422.55,283.37 L423.20,283.35 L423.85,283.32 L424.50,283.30 L425.16,283.28 L425.81,283.26 L426.46,283.24 L427.11,283.21 L427.76,283.19 L428.42,283.17 L429.07,283.14 L429.72,283.12 L430.37,283.09 L431.02,283.07 L431.68,283.04 L432.33,283.02 L432.98,282.99 L433.63,282.96 L434.28,282.94 L434.94,282.91 L435.59,282.88 L436.24,282.85 L436.89,282.82 L437.54,282.79 L438.20,282.76 L438.85,282.73 L439.50,282.70 L440.15,282.66 L440.80,282.63 L441.46,282.60 L442.11,282.56 L442.76,282.53 L443.41,282.49 L444.06,282.45 L444.72,282.42 L445.37,282.38 L446.02,282.34 L446.67,282.30 L447.32,282.26 L447.98,282.22 L448.63,282.17 L449.28,282.13 L449.93,282.09 L450.58,282.04 L451.24,282.00 L451.89,281.95 L452.54,281.90 L453.19,281.85 L453.84,281.80 L454.50,281.75 L455.15,281.70 L455.80,281.64 L456.45,281.59 L457.10,281.53 L457.76,281.47 L458.41,281.41 L459.06,281.35 L459.71,281.29 L460.36,281.23 L461.02,281.16 L461.67,281.10 L462.32,281.03 L462.97,280.96 L463.62,280.89 L464.28,280.82 L464.93,280.74 L465.58,280.66 L466.23,280.58 L466.88,280.50 L467.54,280.42 L468.19,280.33 L468.84,280.25 L469.49,280.16 L470.14,280.07 L470.80,279.97 L471.45,279.87 L472.10,279.77 L472.75,279.67 L473.40,279.56 L474.06,279.46 L474.71,279.34 L475.36,279.23 L476.01,279.11 L476.66,278.99 L477.32,278.86 L477.97,278.74 L478.62,278.60 L479.27,278.47 L479.92,278.32 L480.58,278.18 L481.23,278.03 L481.88,277.88 L482.53,277.72 L483.18,277.55 L483.84,277.38 L484.49,277.21 L485.14,277.02 L485.79,276.84 L486.44,276.64 L487.10,276.44 L487.75,276.24 L488.40,276.02 L489.05,275.80 L489.70,275.57 L490.36,275.34 L491.01,275.09 L491.66,274.84 L492.31,274.57 L492.96,274.30 L493.62,274.02 L494.27,273.72 L494.92,273.42 L495.57,273.10 L496.22,272.78 L496.88,272.43 L497.53,272.08 L498.18,271.71 L498.83,271.33 L499.48,270.93 L500.14,270.51 L500.79,270.08 L501.44,269.63 L502.09,269.16 L502.74,268.68 L503.40,268.17 L504.05,267.64 L504.70,267.08 L505.35,266.51 L506.00,265.91 L506.66,265.28 L507.31,264.62 L507.96,263.94 L508.61,263.22 L509.26,262.47 L509.92,261.69 L510.57,260.87 L511.22,260.02 L511.87,259.13 L512.52,258.19 L513.18,257.22 L513.83,256.20 L514.48,255.13 L515.13,254.02 L515.78,252.86 L516.44,251.64 L517.09,250.38 L517.74,249.05 L518.39,247.68 L519.04,246.24 L519.70,244.75 L520.35,243.20 L521.00,241.60 L521.65,239.93 L522.30,238.21 L522.96,236.44 L523.61,234.61 L524.26,232.74 L524.91,230.82 L525.56,228.87 L526.22,226.89 L526.87,224.90 L527.52,222.89 L528.17,220.89 L528.82,218.91 L529.48,216.97 L530.13,215.07 L530.78,213.25 L531.43,211.51 L532.08,209.89 L532.74,208.40 L533.39,207.05 L534.04,205.88 L534.69,204.89 L535.34,204.11 L536.00,203.54 L536.65,203.19 L537.30,203.08 L537.95,203.19 L538.60,203.54 L539.26,204.11 L539.91,204.89 L540.56,205.88 L541.21,207.05 L541.86,208.40 L542.52,209.89 L543.17,211.51 L543.82,213.25 L544.47,215.07 L545.12,216.97 L545.78,218.91 L546.43,220.89 L547.08,222.89 L547.73,224.90 L548.38,226.89 L549.04,228.87 L549.69,230.82 L550.34,232.74 L550.99,234.61 L551.64,236.44 L552.30,238.21 L552.95,239.93 L553.60,241.60 L554.25,243.20 L554.90,244.75 L555.56,246.24 L556.21,247.68 L556.86,249.05 L557.51,250.38 L558.16,251.64 L558.82,252.86 L559.47,254.02 L560.12,255.13 L560.77,256.20 L561.42,257.22 L562.08,258.19 L562.73,259.13 L563.38,260.02 L564.03,260.87 L564.68,261.69 L565.34,262.47 L565.99,263.22 L566.64,263.94 L567.29,264.62 L567.94,265.28 L568.60,265.91 L569.25,266.51 L569.90,267.08 L570.55,267.64 L571.20,268.17 L571.86,268.68 L572.51,269.16 L573.16,269.63 L573.81,270.08 L574.46,270.51 L575.12,270.93 L575.77,271.33 L576.42,271.71 L577.07,272.08 L577.72,272.43 L578.38,272.78 L579.03,273.10 L579.68,273.42 L580.33,273.72 L580.98,274.02 L581.64,274.30 L582.29,274.57 L582.94,274.84 L583.59,275.09 L584.24,275.34 L584.90,275.57 L585.55,275.80 L586.20,276.02 L586.85,276.24 L587.50,276.44 L588.16,276.64 L588.81,276.84 L589.46,277.02 L590.11,277.21 L590.76,277.38 L591.42,277.55 L592.07,277.72 L592.72,277.88 L593.37,278.03 L594.02,278.18 L594.68,278.32 L595.33,278.47 L595.98,278.60 L596.63,278.74 L597.28,278.86 L597.94,278.99 L598.59,279.11 L599.24,279.23 L599.89,279.34 L600.54,279.46 L601.20,279.56 L601.85,279.67 L602.50,279.77 L603.15,279.87 L603.80,279.97 L604.46,280.07 L605.11,280.16 L605.76,280.25 L606.41,280.33 L607.06,280.42 L607.72,280.50 L608.37,280.58 L609.02,280.66 L609.67,280.74 L610.32,280.82 L610.98,280.89 L611.63,280.96 L612.28,281.03 L612.93,281.10 L613.58,281.16 L614.24,281.23 L614.89,281.29 L615.54,281.35 L616.19,281.41 L616.84,281.47 L617.50,281.53 L618.15,281.59 L618.80,281.64 L619.45,281.70 L620.10,281.75 L620.76,281.80 L621.41,281.85 L622.06,281.90 L622.71,281.95 L623.36,282.00 L624.02,282.04 L624.67,282.09 L625.32,282.13 L625.97,282.17 L626.62,282.22 L627.28,282.26 L627.93,282.30 L628.58,282.34 L629.23,282.38 L629.88,282.42 L630.54,282.45 L631.19,282.49 L631.84,282.53 L632.49,282.56 L633.14,282.60 L633.80,282.63 L634.45,282.66 L635.10,282.70 L635.75,282.73 L636.40,282.76 L637.06,282.79 L637.71,282.82 L638.36,282.85 L639.01,282.88 L639.66,282.91 L640.32,282.94 L640.97,282.96 L641.62,282.99 L642.27,283.02 L642.92,283.04 L643.58,283.07 L644.23,283.09 L644.88,283.12 L645.53,283.14 L646.18,283.17 L646.84,283.19 L647.49,283.21 L648.14,283.24 L648.79,283.26 L649.44,283.28 L650.10,283.30 L650.75,283.32 L651.40,283.35 L652.05,283.37 L652.70,283.39 L653.36,283.41 L654.01,283.43 L654.66,283.44 L655.31,283.46 L655.96,283.48 L656.62,283.50 L657.27,283.52 L657.92,283.54 L658.57,283.55 L659.22,283.57 L659.88,283.59 L660.53,283.60 L661.18,283.62 L661.83,283.64 L662.48,283.65 L663.14,283.67 L663.79,283.68 L664.44,283.70 L665.09,283.71 L665.74,283.73 L666.40,283.74 L667.05,283.76 L667.70,283.77" fill="none" stroke="#ff2020" stroke-width="1"/>
<circle cx="406.90" cy="283.77" r="1.25" fill="none" stroke="#ff2020" stroke-width="0.9"/>
<circle cx="409.27" cy="283.72" r="1.25" fill="none" stroke="#ff2020" stroke-width="0.9"/>
<circle cx="411.64" cy="283.66" r="1.25" fill="none" stroke="#ff2020" stroke-width="0.9"/>
<circle cx="414.01" cy="283.61" r="1.25" fill="none" stroke="#ff2020" stroke-width="0.9"/>
<circle cx="416.38" cy="283.54" r="1.25" fill="none" stroke="#ff2020" stroke-width="0.9"/>
<circle cx="418.75" cy="283.48" r="1.25" fill="none" stroke="#ff2020" stroke-width="0.9"/>
<circle cx="421.13" cy="283.41" r="1.25" fill="none" stroke="#ff2020" stroke-width="0.9"/>
<circle cx="423.50" cy="283.34" r="1.25" fill="none" stroke="#ff2020" stroke-width="0.9"/>
<circle cx="425.87" cy="283.26" r="1.25" fill="none" stroke="#ff2020" stroke-width="0.9"/>
<circle cx="428.24" cy="283.17" r="1.25" fill="none" stroke="#ff2020" stroke-width="0.9"/>
<circle cx="430.61" cy="283.09" r="1.25" fill="none" stroke="#ff2020" stroke-width="0.9"/>
<circle cx="432.98" cy="282.99" r="1.25" fill="none" stroke="#ff2020" stroke-width="0.9"/>
<circle cx="435.35" cy="282.89" r="1.25" fill="none" stroke="#ff2020" stroke-width="0.9"/>
<circle cx="437.72" cy="282.78" r="1.25" fill="none" stroke="#ff2020" stroke-width="0.9"/>
<circle cx="440.09" cy="282.67" r="1.25" fill="none" stroke="#ff2020" stroke-width="0.9"/>
<circle cx="442.46" cy="282.54" r="1.25" fill="none" stroke="#ff2020" stroke-width="0.9"/>
<circle cx="444.83" cy="282.41" r="1.25" fill="none" stroke="#ff2020" stroke-width="0.9"/>
<circle cx="447.21" cy="282.27" r="1.25" fill="none" stroke="#ff2020" stroke-width="0.9"/>
<circle cx="449.58" cy="282.11" r="1.25" fill="none" stroke="#ff2020" stroke-width="0.9"/>
<circle cx="451.95" cy="281.94" r="1.25" fill="none" stroke="#ff2020" stroke-width="0.9"/>
<circle cx="454.32" cy="281.76" r="1.25" fill="none" stroke="#ff2020" stroke-width="0.9"/>
<circle cx="456.69" cy="281.57" r="1.25" fill="none" stroke="#ff2020" stroke-width="0.9"/>
<circle cx="459.06" cy="281.35" r="1.25" fill="none" stroke="#ff2020" stroke-width="0.9"/>
<circle cx="461.43" cy="281.12" r="1.25" fill="none" stroke="#ff2020" stroke-width="0.9"/>
<circle cx="463.80" cy="280.87" r="1.25" fill="none" stroke="#ff2020" stroke-width="0.9"/>
<circle cx="466.17" cy="280.59" r="1.25" fill="none" stroke="#ff2020" stroke-width="0.9"/>
<circle cx="468.54" cy="280.29" r="1.25" fill="none" stroke="#ff2020" stroke-width="0.9"/>
<circle cx="470.91" cy="279.95" r="1.25" fill="none" stroke="#ff2020" stroke-width="0.9"/>
<circle cx="473.29" cy="279.58" r="1.25" fill="none" stroke="#ff2020" stroke-width="0.9"/>
<circle cx="475.66" cy="279.18" r="1.25" fill="none" stroke="#ff2020" stroke-width="0.9"/>
<circle cx="478.03" cy="278.72" r="1.25" fill="none" stroke="#ff2020" stroke-width="0.9"/>
<circle cx="480.40" cy="278.22" r="1.25" fill="none" stroke="#ff2020" stroke-width="0.9"/>
<circle cx="482.77" cy="277.66" r="1.25" fill="none" stroke="#ff2020" stroke-width="0.9"/>
<circle cx="485.14" cy="277.02" r="1.25" fill="none" stroke="#ff2020" stroke-width="0.9"/>
<circle cx="487.51" cy="276.31" r="1.25" fill="none" stroke="#ff2020" stroke-width="0.9"/>
<circle cx="489.88" cy="275.51" r="1.25" fill="none" stroke="#ff2020" stroke-width="0.9"/>
<circle cx="492.25" cy="274.60" r="1.25" fill="none" stroke="#ff2020" stroke-width="0.9"/>
<circle cx="494.62" cy="273.56" r="1.25" fill="none" stroke="#ff2020" stroke-width="0.9"/>
<circle cx="496.99" cy="272.37" r="1.25" fill="none" stroke="#ff2020" stroke-width="0.9"/>
<circle cx="499.37" cy="271.00" r="1.25" fill="none" stroke="#ff2020" stroke-width="0.9"/>
<circle cx="501.74" cy="269.42" r="1.25" fill="none" stroke="#ff2020" stroke-width="0.9"/>
<circle cx="504.11" cy="267.59" r="1.25" fill="none" stroke="#ff2020" stroke-width="0.9"/>
<circle cx="506.48" cy="265.45" r="1.25" fill="none" stroke="#ff2020" stroke-width="0.9"/>
<circle cx="508.85" cy="262.95" r="1.25" fill="none" stroke="#ff2020" stroke-width="0.9"/>
<circle cx="511.22" cy="260.02" r="1.25" fill="none" stroke="#ff2020" stroke-width="0.9"/>
<circle cx="513.59" cy="256.57" r="1.25" fill="none" stroke="#ff2020" stroke-width="0.9"/>
<circle cx="515.96" cy="252.53" r="1.25" fill="none" stroke="#ff2020" stroke-width="0.9"/>
<circle cx="518.33" cy="247.81" r="1.25" fill="none" stroke="#ff2020" stroke-width="0.9"/>
<circle cx="520.70" cy="242.33" r="1.25" fill="none" stroke="#ff2020" stroke-width="0.9"/>
<circle cx="523.07" cy="236.11" r="1.25" fill="none" stroke="#ff2020" stroke-width="0.9"/>
<circle cx="525.45" cy="229.23" r="1.25" fill="none" stroke="#ff2020" stroke-width="0.9"/>
<circle cx="527.82" cy="221.98" r="1.25" fill="none" stroke="#ff2020" stroke-width="0.9"/>
<circle cx="530.19" cy="214.90" r="1.25" fill="none" stroke="#ff2020" stroke-width="0.9"/>
<circle cx="532.56" cy="208.79" r="1.25" fill="none" stroke="#ff2020" stroke-width="0.9"/>
<circle cx="534.93" cy="204.59" r="1.25" fill="none" stroke="#ff2020" stroke-width="0.9"/>
<circle cx="537.30" cy="203.08" r="1.25" fill="none" stroke="#ff2020" stroke-width="0.9"/>
<circle cx="539.67" cy="204.59" r="1.25" fill="none" stroke="#ff2020" stroke-width="0.9"/>
<circle cx="542.04" cy="208.79" r="1.25" fill="none" stroke="#ff2020" stroke-width="0.9"/>
<circle cx="544.41" cy="214.90" r="1.25" fill="none" stroke="#ff2020" stroke-width="0.9"/>
<circle cx="546.78" cy="221.98" r="1.25" fill="none" stroke="#ff2020" stroke-width="0.9"/>
<circle cx="549.15" cy="229.23" r="1.25" fill="none" stroke="#ff2020" stroke-width="0.9"/>
<circle cx="551.53" cy="236.11" r="1.25" fill="none" stroke="#ff2020" stroke-width="0.9"/>
<circle cx="553.90" cy="242.33" r="1.25" fill="none" stroke="#ff2020" stroke-width="0.9"/>
<circle cx="556.27" cy="247.81" r="1.25" fill="none" stroke="#ff2020" stroke-width="0.9"/>
<circle cx="558.64" cy="252.53" r="1.25" fill="none" stroke="#ff2020" stroke-width="0.9"/>
<circle cx="561.01" cy="256.57" r="1.25" fill="none" stroke="#ff2020" stroke-width="0.9"/>
<circle cx="563.38" cy="260.02" r="1.25" fill="none" stroke="#ff2020" stroke-width="0.9"/>
<circle cx="565.75" cy="262.95" r="1.25" fill="none" stroke="#ff2020" stroke-width="0.9"/>
<circle cx="568.12" cy="265.45" r="1.25" fill="none" stroke="#ff2020" stroke-width="0.9"/>
<circle cx="570.49" cy="267.59" r="1.25" fill="none" stroke="#ff2020" stroke-width="0.9"/>
<circle cx="572.86" cy="269.42" r="1.25" fill="none" stroke="#ff2020" stroke-width="0.9"/>
<circle cx="575.23" cy="271.00" r="1.25" fill="none" stroke="#ff2020" stroke-width="0.9"/>
<circle cx="577.61" cy="272.37" r="1.25" fill="none" stroke="#ff2020" stroke-width="0.9"/>
<circle cx="579.98" cy="273.56" r="1.25" fill="none" stroke="#ff2020" stroke-width="0.9"/>
<circle cx="582.35" cy="274.60" r="1.25" fill="none" stroke="#ff2020" stroke-width="0.9"/>
<circle cx="584.72" cy="275.51" r="1.25" fill="none" stroke="#ff2020" stroke-width="0.9"/>
<circle cx="587.09" cy="276.31" r="1.25" fill="none" stroke="#ff2020" stroke-width="0.9"/>
<circle cx="589.46" cy="277.02" r="1.25" fill="none" stroke="#ff2020" stroke-width="0.9"/>
<circle cx="591.83" cy="277.66" r="1.25" fill="none" stroke="#ff2020" stroke-width="0.9"/>
<circle cx="594.20" cy="278.22" r="1.25" fill="none" stroke="#ff2020" stroke-width="0.9"/>
<circle cx="596.57" cy="278.72" r="1.25" fill="none" stroke="#ff2020" stroke-width="0.9"/>
<circle cx="598.94" cy="279.18" r="1.25" fill="none" stroke="#ff2020" stroke-width="0.9"/>
<circle cx="601.31" cy="279.58" r="1.25" fill="none" stroke="#ff2020" stroke-width="0.9"/>
<circle cx="603.69" cy="279.95" r="1.25" fill="none" stroke="#ff2020" stroke-width="0.9"/>
<circle cx="606.06" cy="280.29" r="1.25" fill="none" stroke="#ff2020" stroke-width="0.9"/>
<circle cx="608.43" cy="280.59" r="1.25" fill="none" stroke="#ff2020" stroke-width="0.9"/>
<circle cx="610.80" cy="280.87" r="1.25" fill="none" stroke="#ff2020" stroke-width="0.9"/>
<circle cx="613.17" cy="281.12" r="1.25" fill="none" stroke="#ff2020" stroke-width="0.9"/>
<circle cx="615.54" cy="281.35" r="1.25" fill="none" stroke="#ff2020" stroke-width="0.9"/>
<circle cx="617.91" cy="281.57" r="1.25" fill="none" stroke="#ff2020" stroke-width="0.9"/>
<circle cx="620.28" cy="281.76" r="1.25" fill="none" stroke="#ff2020" stroke-width="0.9"/>
<circle cx="622.65" cy="281.94" r="1.25" fill="none" stroke="#ff2020" stroke-width="0.9"/>
<circle cx="625.02" cy="282.11" r="1.25" fill="none" stroke="#ff2020" stroke-width="0.9"/>
<circle cx="627.39" cy="282.27" r="1.25" fill="none" stroke="#ff2020" stroke-width="0.9"/>
<circle cx="629.77" cy="282.41" r="1.25" fill="none" stroke="#ff2020" stroke-width="0.9"/>
<circle cx="632.14" cy="282.54" r="1.25" fill="none" stroke="#ff2020" stroke-width="0.9"/>
<circle cx="634.51" cy="282.67" r="1.25" fill="none" stroke="#ff2020" stroke-width="0.9"/>
<circle cx="636.88" cy="282.78" r="1.25" fill="none" stroke="#ff2020" stroke-width="0.9"/>
<circle cx="639.25" cy="282.89" r="1.25" fill="none" stroke="#ff2020" stroke-width="0.9"/>
<circle cx="641.62" cy="282.99" r="1.25" fill="none" stroke="#ff2020" stroke-width="0.9"/>
<circle cx="643.99" cy="283.09" r="1.25" fill="none" stroke="#ff2020" stroke-width="0.9"/>
<circle cx="646.36" cy="283.17" r="1.25" fill="none" stroke="#ff2020" stroke-width="0.9"/>
<circle cx="648.73" cy="283.26" r="1.25" fill="none" stroke="#ff2020" stroke-width="0.9"/>
<circle cx="651.10" cy="283.34" r="1.25" fill="none" stroke="#ff2020" stroke-width="0.9"/>
<circle cx="653.47" cy="283.41" r="1.25" fill="none" stroke="#ff2020" stroke-width="0.9"/>
<circle cx="655.85" cy="283.48" r="1.25" fill="none" stroke="#ff2020" stroke-width="0.9"/>
<circle cx="658.22" cy="283.54" r="1.25" fill="none" stroke="#ff2020" stroke-width="0.9"/>
<circle cx="660.59" cy="283.61" r="1.25" fill="none" stroke="#ff2020" stroke-width="0.9"/>
<circle cx="662.96" cy="283.66" r="1.25" fill="none" stroke="#ff2020" stroke-width="0.9"/>
<circle cx="665.33" cy="283.72" r="1.25" fill="none" stroke="#ff2020" stroke-width="0.9"/>
<circle cx="667.70" cy="283.77" r="1.25" fill="none" stroke="#ff2020" stroke-width="0.9"/>
<path d="M406.90,376.59 L407.06,376.59 L407.23,376.59 L407.39,376.59 L407.55,376.59 L407.71,376.59 L407.88,376.59 L408.04,376.59 L408.20,376.58 L408.37,376.58 L408.53,376.58 L408.69,376.58 L408.86,376.58 L409.02,376.58 L409.18,376.58 L409.34,376.58 L409.51,376.58 L409.67,376.58 L409.83,376.58 L410.00,376.58 L410.16,376.58 L410.32,376.58 L410.49,376.58 L410.65,376.58 L410.81,376.58 L410.97,376.58 L411.14,376.58 L411.30,376.58 L411.46,376.58 L411.63,376.58 L411.79,376.58 L411.95,376.58 L412.12,376.58 L412.28,376.58 L412.44,376.57 L412.60,376.57 L412.77,376.57 L412.93,376.57 L413.09,376.57 L413.26,376.57 L413.42,376.57 L413.58,376.57 L413.75,376.57 L413.91,376.57 L414.07,376.57 L414.23,376.57 L414.40,376.57 L414.56,376.57 L414.72,376.57 L414.89,376.57 L415.05,376.57 L415.21,376.57 L415.38,376.57 L415.54,376.57 L415.70,376.57 L415.86,376.57 L416.03,376.57 L416.19,376.57 L416.35,376.57 L416.52,376.56 L416.68,376.56 L416.84,376.56 L417.01,376.56 L417.17,376.56 L417.33,376.56 L417.49,376.56 L417.66,376.56 L417.82,376.56 L417.98,376.56 L418.15,376.56 L418.31,376.56 L418.47,376.56 L418.64,376.56 L418.80,376.56 L418.96,376.56 L419.12,376.56 L419.29,376.56 L419.45,376.56 L419.61,376.56 L419.78,376.56 L419.94,376.56 L420.10,376.56 L420.27,376.55 L420.43,376.55 L420.59,376.55 L420.75,376.55 L420.92,376.55 L421.08,376.55 L421.24,376.55 L421.41,376.55 L421.57,376.55 L421.73,376.55 L421.90,376.55 L422.06,376.55 L422.22,376.55 L422.38,376.55 L422.55,376.55 L422.71,376.55 L422.87,376.55 L423.04,376.55 L423.20,376.55 L423.36,376.55 L423.53,376.55 L423.69,376.54 L423.85,376.54 L424.01,376.54 L424.18,376.54 L424.34,376.54 L424.50,376.54 L424.67,376.54 L424.83,376.54 L424.99,376.54 L425.16,376.54 L425.32,376.54 L425.48,376.54 L425.64,376.54 L425.81,376.54 L425.97,376.54 L426.13,376.54 L426.30,376.54 L426.46,376.54 L426.62,376.54 L426.79,376.54 L426.95,376.53 L427.11,376.53 L427.27,376.53 L427.44,376.53 L427.60,376.53 L427.76,376.53 L427.93,376.53 L428.09,376.53 L428.25,376.53 L428.42,376.53 L428.58,376.53 L428.74,376.53 L428.90,376.53 L429.07,376.53 L429.23,376.53 L429.39,376.53 L429.56,376.53 L429.72,376.53 L429.88,376.53 L430.05,376.53 L430.21,376.52 L430.37,376.52 L430.53,376.52 L430.70,376.52 L430.86,376.52 L431.02,376.52 L431.19,376.52 L431.35,376.52 L431.51,376.52 L431.68,376.52 L431.84,376.52 L432.00,376.52 L432.16,376.52 L432.33,376.52 L432.49,376.52 L432.65,376.52 L432.82,376.52 L432.98,376.52 L433.14,376.51 L433.31,376.51 L433.47,376.51 L433.63,376.51 L433.79,376.51 L433.96,376.51 L434.12,376.51 L434.28,376.51 L434.45,376.51 L434.61,376.51 L434.77,376.51 L434.94,376.51 L435.10,376.51 L435.26,376.51 L435.42,376.51 L435.59,376.51 L435.75,376.51 L435.91,376.50 L436.08,376.50 L436.24,376.50 L436.40,376.50 L436.57,376.50 L436.73,376.50 L436.89,376.50 L437.05,376.50 L437.22,376.50 L437.38,376.50 L437.54,376.50 L437.71,376.50 L437.87,376.50 L438.03,376.50 L438.20,376.50 L438.36,376.50 L438.52,376.49 L438.68,376.49 L438.85,376.49 L439.01,376.49 L439.17,376.49 L439.34,376.49 L439.50,376.49 L439.66,376.49 L439.83,376.49 L439.99,376.49 L440.15,376.49 L440.31,376.49 L440.48,376.49 L440.64,376.49 L440.80,376.49 L440.97,376.49 L441.13,376.48 L441.29,376.48 L441.46,376.48 L441.62,376.48 L441.78,376.48 L441.94,376.48 L442.11,376.48 L442.27,376.48 L442.43,376.48 L442.60,376.48 L442.76,376.48 L442.92,376.48 L443.09,376.48 L443.25,376.48 L443.41,376.47 L443.57,376.47 L443.74,376.47 L443.90,376.47 L444.06,376.47 L444.23,376.47 L444.39,376.47 L444.55,376.47 L444.72,376.47 L444.88,376.47 L445.04,376.47 L445.20,376.47 L445.37,376.47 L445.53,376.47 L445.69,376.46 L445.86,376.46 L446.02,376.46 L446.18,376.46 L446.35,376.46 L446.51,376.46 L446.67,376.46 L446.83,376.46 L447.00,376.46 L447.16,376.46 L447.32,376.46 L447.49,376.46 L447.65,376.46 L447.81,376.46 L447.98,376.45 L448.14,376.45 L448.30,376.45 L448.46,376.45 L448.63,376.45 L448.79,376.45 L448.95,376.45 L449.12,376.45 L449.28,376.45 L449.44,376.45 L449.61,376.45 L449.77,376.45 L449.93,376.44 L450.09,376.44 L450.26,376.44 L450.42,376.44 L450.58,376.44 L450.75,376.44 L450.91,376.44 L451.07,376.44 L451.24,376.44 L451.40,376.44 L451.56,376.44 L451.72,376.44 L451.89,376.43 L452.05,376.43 L452.21,376.43 L452.38,376.43 L452.54,376.43 L452.70,376.43 L452.87,376.43 L453.03,376.43 L453.19,376.43 L453.35,376.43 L453.52,376.43 L453.68,376.43 L453.84,376.42 L454.01,376.42 L454.17,376.42 L454.33,376.42 L454.50,376.42 L454.66,376.42 L454.82,376.42 L454.98,376.42 L455.15,376.42 L455.31,376.42 L455.47,376.42 L455.64,376.41 L455.80,376.41 L455.96,376.41 L456.13,376.41 L456.29,376.41 L456.45,376.41 L456.61,376.41 L456.78,376.41 L456.94,376.41 L457.10,376.41 L457.27,376.41 L457.43,376.40 L457.59,376.40 L457.76,376.40 L457.92,376.40 L458.08,376.40 L458.24,376.40 L458.41,376.40 L458.57,376.40 L458.73,376.40 L458.90,376.40 L459.06,376.39 L459.22,376.39 L459.39,376.39 L459.55,376.39 L459.71,376.39 L459.87,376.39 L460.04,376.39 L460.20,376.39 L460.36,376.39 L460.53,376.39 L460.69,376.38 L460.85,376.38 L461.02,376.38 L461.18,376.38 L461.34,376.38 L461.50,376.38 L461.67,376.38 L461.83,376.38 L461.99,376.38 L462.16,376.37 L462.32,376.37 L462.48,376.37 L462.65,376.37 L462.81,376.37 L462.97,376.37 L463.13,376.37 L463.30,376.37 L463.46,376.37 L463.62,376.36 L463.79,376.36 L463.95,376.36 L464.11,376.36 L464.28,376.36 L464.44,376.36 L464.60,376.36 L464.76,376.36 L464.93,376.36 L465.09,376.35 L465.25,376.35 L465.42,376.35 L465.58,376.35 L465.74,376.35 L465.91,376.35 L466.07,376.35 L466.23,376.35 L466.39,376.34 L466.56,376.34 L466.72,376.34 L466.88,376.34 L467.05,376.34 L467.21,376.34 L467.37,376.34 L467.54,376.34 L467.70,376.33 L467.86,376.33 L468.02,376.33 L468.19,376.33 L468.35,376.33 L468.51,376.33 L468.68,376.33 L468.84,376.33 L469.00,376.32 L469.17,376.32 L469.33,376.32 L469.49,376.32 L469.65,376.32 L469.82,376.32 L469.98,376.32 L470.14,376.32 L470.31,376.31 L470.47,376.31 L470.63,376.31 L470.80,376.31 L470.96,376.31 L471.12,376.31 L471.28,376.31 L471.45,376.30 L471.61,376.30 L471.77,376.30 L471.94,376.30 L472.10,376.30 L472.26,376.30 L472.43,376.30 L472.59,376.29 L472.75,376.29 L472.91,376.29 L473.08,376.29 L473.24,376.29 L473.40,376.29 L473.57,376.29 L473.73,376.28 L473.89,376.28 L474.06,376.28 L474.22,376.28 L474.38,376.28 L474.54,376.28 L474.71,376.27 L474.87,376.27 L475.03,376.27 L475.20,376.27 L475.36,376.27 L475.52,376.27 L475.69,376.27 L475.85,376.26 L476.01,376.26 L476.17,376.26 L476.34,376.26 L476.50,376.26 L476.66,376.26 L476.83,376.25 L476.99,376.25 L477.15,376.25 L477.32,376.25 L477.48,376.25 L477.64,376.25 L477.80,376.24 L477.97,376.24 L478.13,376.24 L478.29,376.24 L478.46,376.24 L478.62,376.24 L478.78,376.23 L478.95,376.23 L479.11,376.23 L479.27,376.23 L479.43,376.23 L479.60,376.22 L479.76,376.22 L479.92,376.22 L480.09,376.22 L480.25,376.22 L480.41,376.22 L480.58,376.21 L480.74,376.21 L480.90,376.21 L481.06,376.21 L481.23,376.21 L481.39,376.20 L481.55,376.20 L481.72,376.20 L481.88,376.20 L482.04,376.20 L482.21,376.19 L482.37,376.19 L482.53,376.19 L482.69,376.19 L482.86,376.19 L483.02,376.18 L483.18,376.18 L483.35,376.18 L483.51,376.18 L483.67,376.18 L483.84,376.17 L484.00,376.17 L484.16,376.17 L484.32,376.17 L484.49,376.16 L484.65,376.16 L484.81,376.16 L484.98,376.16 L485.14,376.16 L485.30,376.15 L485.47,376.15 L485.63,376.15 L485.79,376.15 L485.95,376.14 L486.12,376.14 L486.28,376.14 L486.44,376.14 L486.61,376.14 L486.77,376.13 L486.93,376.13 L487.10,376.13 L487.26,376.13 L487.42,376.12 L487.58,376.12 L487.75,376.12 L487.91,376.12 L488.07,376.11 L488.24,376.11 L488.40,376.11 L488.56,376.11 L488.73,376.10 L488.89,376.10 L489.05,376.10 L489.21,376.10 L489.38,376.09 L489.54,376.09 L489.70,376.09 L489.87,376.09 L490.03,376.08 L490.19,376.08 L490.36,376.08 L490.52,376.08 L490.68,376.07 L490.84,376.07 L491.01,376.07 L491.17,376.06 L491.33,376.06 L491.50,376.06 L491.66,376.06 L491.82,376.05 L491.99,376.05 L492.15,376.05 L492.31,376.04 L492.47,376.04 L492.64,376.04 L492.80,376.04 L492.96,376.03 L493.13,376.03 L493.29,376.03 L493.45,376.02 L493.62,376.02 L493.78,376.02 L493.94,376.01 L494.10,376.01 L494.27,376.01 L494.43,376.00 L494.59,376.00 L494.76,376.00 L494.92,375.99 L495.08,375.99 L495.25,375.99 L495.41,375.98 L495.57,375.98 L495.73,375.98 L495.90,375.97 L496.06,375.97 L496.22,375.97 L496.39,375.96 L496.55,375.96 L496.71,375.96 L496.88,375.95 L497.04,375.95 L497.20,375.95 L497.36,375.94 L497.53,375.94 L497.69,375.93 L497.85,375.93 L498.02,375.93 L498.18,375.92 L498.34,375.92 L498.51,375.92 L498.67,375.91 L498.83,375.91 L498.99,375.90 L499.16,375.90 L499.32,375.90 L499.48,375.89 L499.65,375.89 L499.81,375.88 L499.97,375.88 L500.14,375.87 L500.30,375.87 L500.46,375.87 L500.62,375.86 L500.79,375.86 L500.95,375.85 L501.11,375.85 L501.28,375.84 L501.44,375.84 L501.60,375.84 L501.77,375.83 L501.93,375.83 L502.09,375.82 L502.25,375.82 L502.42,375.81 L502.58,375.81 L502.74,375.80 L502.91,375.80 L503.07,375.79 L503.23,375.79 L503.40,375.78 L503.56,375.78 L503.72,375.77 L503.88,375.77 L504.05,375.76 L504.21,375.76 L504.37,375.75 L504.54,375.75 L504.70,375.74 L504.86,375.74 L505.03,375.73 L505.19,375.73 L505.35,375.72 L505.51,375.71 L505.68,375.71 L505.84,375.70 L506.00,375.70 L506.17,375.69 L506.33,375.69 L506.49,375.68 L506.66,375.67 L506.82,375.67 L506.98,375.66 L507.14,375.66 L507.31,375.65 L507.47,375.64 L507.63,375.64 L507.80,375.63 L507.96,375.62 L508.12,375.62 L508.29,375.61 L508.45,375.60 L508.61,375.60 L508.77,375.59 L508.94,375.58 L509.10,375.58 L509.26,375.57 L509.43,375.56 L509.59,375.55 L509.75,375.55 L509.92,375.54 L510.08,375.53 L510.24,375.53 L510.40,375.52 L510.57,375.51 L510.73,375.50 L510.89,375.49 L511.06,375.49 L511.22,375.48 L511.38,375.47 L511.55,375.46 L511.71,375.45 L511.87,375.45 L512.03,375.44 L512.20,375.43 L512.36,375.42 L512.52,375.41 L512.69,375.40 L512.85,375.39 L513.01,375.39 L513.18,375.38 L513.34,375.37 L513.50,375.36 L513.66,375.35 L513.83,375.34 L513.99,375.33 L514.15,375.32 L514.32,375.31 L514.48,375.30 L514.64,375.29 L514.81,375.28 L514.97,375.27 L515.13,375.26 L515.29,375.25 L515.46,375.24 L515.62,375.23 L515.78,375.22 L515.95,375.20 L516.11,375.19 L516.27,375.18 L516.44,375.17 L516.60,375.16 L516.76,375.15 L516.92,375.13 L517.09,375.12 L517.25,375.11 L517.41,375.10 L517.58,375.08 L517.74,375.07 L517.90,375.06 L518.07,375.05 L518.23,375.03 L518.39,375.02 L518.55,375.01 L518.72,374.99 L518.88,374.98 L519.04,374.96 L519.21,374.95 L519.37,374.93 L519.53,374.92 L519.70,374.90 L519.86,374.89 L520.02,374.87 L520.18,374.86 L520.35,374.84 L520.51,374.83 L520.67,374.81 L520.84,374.79 L521.00,374.78 L521.16,374.76 L521.33,374.74 L521.49,374.73 L521.65,374.71 L521.81,374.69 L521.98,374.67 L522.14,374.65 L522.30,374.64 L522.47,374.62 L522.63,374.60 L522.79,374.58 L522.96,374.56 L523.12,374.54 L523.28,374.52 L523.44,374.50 L523.61,374.48 L523.77,374.46 L523.93,374.44 L524.10,374.42 L524.26,374.39 L524.42,374.37 L524.59,374.35 L524.75,374.33 L524.91,374.30 L525.07,374.28 L525.24,374.26 L525.40,374.23 L525.56,374.21 L525.73,374.19 L525.89,374.16 L526.05,374.14 L526.22,374.11 L526.38,374.09 L526.54,374.06 L526.70,374.04 L526.87,374.01 L527.03,373.98 L527.19,373.96 L527.36,373.93 L527.52,373.90 L527.68,373.88 L527.85,373.85 L528.01,373.82 L528.17,373.80 L528.33,373.77 L528.50,373.74 L528.66,373.72 L528.82,373.69 L528.99,373.67 L529.15,373.64 L529.31,373.61 L529.48,373.59 L529.64,373.56 L529.80,373.54 L529.96,373.51 L530.13,373.49 L530.29,373.47 L530.45,373.45 L530.62,373.43 L530.78,373.41 L530.94,373.39 L531.11,373.38 L531.27,373.36 L531.43,373.35 L531.59,373.34 L531.76,373.33 L531.92,373.33 L532.08,373.32 L532.25,373.32 L532.41,373.33 L532.57,373.34 L532.74,373.35 L532.90,373.37 L533.06,373.39 L533.22,373.42 L533.39,373.45 L533.55,373.49 L533.71,373.54 L533.88,373.59 L534.04,373.65 L534.20,373.72 L534.37,373.80 L534.53,373.89 L534.69,373.99 L534.85,374.10 L535.02,374.22 L535.18,374.35 L535.34,374.49 L535.51,374.64 L535.67,374.80 L535.83,374.97 L536.00,375.15 L536.16,375.34 L536.32,375.55 L536.49,375.75 L536.65,375.97 L536.81,376.19 L536.97,376.42 L537.14,376.65 L537.30,376.88 L537.46,377.11 L537.63,377.34 L537.79,377.57 L537.95,377.79 L538.12,378.01 L538.28,378.22 L538.44,378.42 L538.60,378.61 L538.77,378.79 L538.93,378.96 L539.09,379.12 L539.26,379.27 L539.42,379.41 L539.58,379.54 L539.75,379.66 L539.91,379.77 L540.07,379.87 L540.23,379.96 L540.40,380.04 L540.56,380.11 L540.72,380.17 L540.89,380.22 L541.05,380.27 L541.21,380.31 L541.38,380.34 L541.54,380.37 L541.70,380.39 L541.86,380.41 L542.03,380.42 L542.19,380.43 L542.35,380.44 L542.52,380.44 L542.68,380.43 L542.84,380.43 L543.00,380.42 L543.17,380.41 L543.33,380.40 L543.49,380.39 L543.66,380.37 L543.82,380.35 L543.98,380.33 L544.15,380.31 L544.31,380.29 L544.47,380.27 L544.63,380.25 L544.80,380.22 L544.96,380.20 L545.12,380.17 L545.29,380.15 L545.45,380.12 L545.61,380.10 L545.78,380.07 L545.94,380.04 L546.10,380.02 L546.26,379.99 L546.43,379.96 L546.59,379.94 L546.75,379.91 L546.92,379.88 L547.08,379.86 L547.24,379.83 L547.41,379.80 L547.57,379.78 L547.73,379.75 L547.89,379.72 L548.06,379.70 L548.22,379.67 L548.38,379.65 L548.55,379.62 L548.71,379.60 L548.87,379.57 L549.04,379.55 L549.20,379.53 L549.36,379.50 L549.52,379.48 L549.69,379.46 L549.85,379.43 L550.01,379.41 L550.18,379.39 L550.34,379.37 L550.50,379.35 L550.67,379.32 L550.83,379.30 L550.99,379.28 L551.15,379.26 L551.32,379.24 L551.48,379.22 L551.64,379.20 L551.81,379.18 L551.97,379.16 L552.13,379.14 L552.30,379.12 L552.46,379.11 L552.62,379.09 L552.78,379.07 L552.95,379.05 L553.11,379.03 L553.27,379.02 L553.44,379.00 L553.60,378.98 L553.76,378.97 L553.93,378.95 L554.09,378.93 L554.25,378.92 L554.41,378.90 L554.58,378.89 L554.74,378.87 L554.90,378.86 L555.07,378.84 L555.23,378.83 L555.39,378.81 L555.56,378.80 L555.72,378.78 L555.88,378.77 L556.04,378.75 L556.21,378.74 L556.37,378.73 L556.53,378.71 L556.70,378.70 L556.86,378.69 L557.02,378.68 L557.19,378.66 L557.35,378.65 L557.51,378.64 L557.67,378.63 L557.84,378.61 L558.00,378.60 L558.16,378.59 L558.33,378.58 L558.49,378.57 L558.65,378.56 L558.82,378.55 L558.98,378.53 L559.14,378.52 L559.30,378.51 L559.47,378.50 L559.63,378.49 L559.79,378.48 L559.96,378.47 L560.12,378.46 L560.28,378.45 L560.45,378.44 L560.61,378.43 L560.77,378.42 L560.93,378.41 L561.10,378.40 L561.26,378.39 L561.42,378.38 L561.59,378.37 L561.75,378.37 L561.91,378.36 L562.08,378.35 L562.24,378.34 L562.40,378.33 L562.56,378.32 L562.73,378.31 L562.89,378.31 L563.05,378.30 L563.22,378.29 L563.38,378.28 L563.54,378.27 L563.71,378.27 L563.87,378.26 L564.03,378.25 L564.19,378.24 L564.36,378.23 L564.52,378.23 L564.68,378.22 L564.85,378.21 L565.01,378.21 L565.17,378.20 L565.34,378.19 L565.50,378.18 L565.66,378.18 L565.82,378.17 L565.99,378.16 L566.15,378.16 L566.31,378.15 L566.48,378.14 L566.64,378.14 L566.80,378.13 L566.97,378.12 L567.13,378.12 L567.29,378.11 L567.45,378.11 L567.62,378.10 L567.78,378.09 L567.94,378.09 L568.11,378.08 L568.27,378.08 L568.43,378.07 L568.60,378.06 L568.76,378.06 L568.92,378.05 L569.08,378.05 L569.25,378.04 L569.41,378.04 L569.57,378.03 L569.74,378.02 L569.90,378.02 L570.06,378.01 L570.23,378.01 L570.39,378.00 L570.55,378.00 L570.71,377.99 L570.88,377.99 L571.04,377.98 L571.20,377.98 L571.37,377.97 L571.53,377.97 L571.69,377.96 L571.86,377.96 L572.02,377.95 L572.18,377.95 L572.35,377.94 L572.51,377.94 L572.67,377.93 L572.83,377.93 L573.00,377.92 L573.16,377.92 L573.32,377.92 L573.49,377.91 L573.65,377.91 L573.81,377.90 L573.97,377.90 L574.14,377.89 L574.30,377.89 L574.46,377.89 L574.63,377.88 L574.79,377.88 L574.95,377.87 L575.12,377.87 L575.28,377.86 L575.44,377.86 L575.61,377.86 L575.77,377.85 L575.93,377.85 L576.09,377.84 L576.26,377.84 L576.42,377.84 L576.58,377.83 L576.75,377.83 L576.91,377.83 L577.07,377.82 L577.23,377.82 L577.40,377.81 L577.56,377.81 L577.72,377.81 L577.89,377.80 L578.05,377.80 L578.21,377.80 L578.38,377.79 L578.54,377.79 L578.70,377.79 L578.87,377.78 L579.03,377.78 L579.19,377.78 L579.35,377.77 L579.52,377.77 L579.68,377.77 L579.84,377.76 L580.01,377.76 L580.17,377.76 L580.33,377.75 L580.50,377.75 L580.66,377.75 L580.82,377.74 L580.98,377.74 L581.15,377.74 L581.31,377.73 L581.47,377.73 L581.64,377.73 L581.80,377.73 L581.96,377.72 L582.12,377.72 L582.29,377.72 L582.45,377.71 L582.61,377.71 L582.78,377.71 L582.94,377.70 L583.10,377.70 L583.27,377.70 L583.43,377.70 L583.59,377.69 L583.75,377.69 L583.92,377.69 L584.08,377.69 L584.24,377.68 L584.41,377.68 L584.57,377.68 L584.73,377.67 L584.90,377.67 L585.06,377.67 L585.22,377.67 L585.38,377.66 L585.55,377.66 L585.71,377.66 L585.87,377.66 L586.04,377.65 L586.20,377.65 L586.36,377.65 L586.53,377.65 L586.69,377.64 L586.85,377.64 L587.01,377.64 L587.18,377.64 L587.34,377.63 L587.50,377.63 L587.67,377.63 L587.83,377.63 L587.99,377.62 L588.16,377.62 L588.32,377.62 L588.48,377.62 L588.64,377.62 L588.81,377.61 L588.97,377.61 L589.13,377.61 L589.30,377.61 L589.46,377.60 L589.62,377.60 L589.79,377.60 L589.95,377.60 L590.11,377.60 L590.27,377.59 L590.44,377.59 L590.60,377.59 L590.76,377.59 L590.93,377.58 L591.09,377.58 L591.25,377.58 L591.42,377.58 L591.58,377.58 L591.74,377.57 L591.90,377.57 L592.07,377.57 L592.23,377.57 L592.39,377.57 L592.56,377.56 L592.72,377.56 L592.88,377.56 L593.05,377.56 L593.21,377.56 L593.37,377.55 L593.53,377.55 L593.70,377.55 L593.86,377.55 L594.02,377.55 L594.19,377.55 L594.35,377.54 L594.51,377.54 L594.68,377.54 L594.84,377.54 L595.00,377.54 L595.16,377.53 L595.33,377.53 L595.49,377.53 L595.65,377.53 L595.82,377.53 L595.98,377.53 L596.14,377.52 L596.31,377.52 L596.47,377.52 L596.63,377.52 L596.79,377.52 L596.96,377.51 L597.12,377.51 L597.28,377.51 L597.45,377.51 L597.61,377.51 L597.77,377.51 L597.94,377.50 L598.10,377.50 L598.26,377.50 L598.42,377.50 L598.59,377.50 L598.75,377.50 L598.91,377.49 L599.08,377.49 L599.24,377.49 L599.40,377.49 L599.57,377.49 L599.73,377.49 L599.89,377.49 L600.05,377.48 L600.22,377.48 L600.38,377.48 L600.54,377.48 L600.71,377.48 L600.87,377.48 L601.03,377.47 L601.20,377.47 L601.36,377.47 L601.52,377.47 L601.68,377.47 L601.85,377.47 L602.01,377.47 L602.17,377.46 L602.34,377.46 L602.50,377.46 L602.66,377.46 L602.83,377.46 L602.99,377.46 L603.15,377.46 L603.31,377.45 L603.48,377.45 L603.64,377.45 L603.80,377.45 L603.97,377.45 L604.13,377.45 L604.29,377.45 L604.46,377.44 L604.62,377.44 L604.78,377.44 L604.94,377.44 L605.11,377.44 L605.27,377.44 L605.43,377.44 L605.60,377.44 L605.76,377.43 L605.92,377.43 L606.09,377.43 L606.25,377.43 L606.41,377.43 L606.57,377.43 L606.74,377.43 L606.90,377.43 L607.06,377.42 L607.23,377.42 L607.39,377.42 L607.55,377.42 L607.72,377.42 L607.88,377.42 L608.04,377.42 L608.20,377.42 L608.37,377.41 L608.53,377.41 L608.69,377.41 L608.86,377.41 L609.02,377.41 L609.18,377.41 L609.35,377.41 L609.51,377.41 L609.67,377.40 L609.83,377.40 L610.00,377.40 L610.16,377.40 L610.32,377.40 L610.49,377.40 L610.65,377.40 L610.81,377.40 L610.98,377.40 L611.14,377.39 L611.30,377.39 L611.47,377.39 L611.63,377.39 L611.79,377.39 L611.95,377.39 L612.12,377.39 L612.28,377.39 L612.44,377.39 L612.61,377.38 L612.77,377.38 L612.93,377.38 L613.10,377.38 L613.26,377.38 L613.42,377.38 L613.58,377.38 L613.75,377.38 L613.91,377.38 L614.07,377.37 L614.24,377.37 L614.40,377.37 L614.56,377.37 L614.73,377.37 L614.89,377.37 L615.05,377.37 L615.21,377.37 L615.38,377.37 L615.54,377.37 L615.70,377.36 L615.87,377.36 L616.03,377.36 L616.19,377.36 L616.36,377.36 L616.52,377.36 L616.68,377.36 L616.84,377.36 L617.01,377.36 L617.17,377.36 L617.33,377.36 L617.50,377.35 L617.66,377.35 L617.82,377.35 L617.99,377.35 L618.15,377.35 L618.31,377.35 L618.47,377.35 L618.64,377.35 L618.80,377.35 L618.96,377.35 L619.13,377.34 L619.29,377.34 L619.45,377.34 L619.62,377.34 L619.78,377.34 L619.94,377.34 L620.10,377.34 L620.27,377.34 L620.43,377.34 L620.59,377.34 L620.76,377.34 L620.92,377.33 L621.08,377.33 L621.25,377.33 L621.41,377.33 L621.57,377.33 L621.73,377.33 L621.90,377.33 L622.06,377.33 L622.22,377.33 L622.39,377.33 L622.55,377.33 L622.71,377.33 L622.88,377.32 L623.04,377.32 L623.20,377.32 L623.36,377.32 L623.53,377.32 L623.69,377.32 L623.85,377.32 L624.02,377.32 L624.18,377.32 L624.34,377.32 L624.50,377.32 L624.67,377.32 L624.83,377.31 L624.99,377.31 L625.16,377.31 L625.32,377.31 L625.48,377.31 L625.65,377.31 L625.81,377.31 L625.97,377.31 L626.13,377.31 L626.30,377.31 L626.46,377.31 L626.62,377.31 L626.79,377.31 L626.95,377.30 L627.11,377.30 L627.28,377.30 L627.44,377.30 L627.60,377.30 L627.76,377.30 L627.93,377.30 L628.09,377.30 L628.25,377.30 L628.42,377.30 L628.58,377.30 L628.74,377.30 L628.91,377.30 L629.07,377.29 L629.23,377.29 L629.39,377.29 L629.56,377.29 L629.72,377.29 L629.88,377.29 L630.05,377.29 L630.21,377.29 L630.37,377.29 L630.54,377.29 L630.70,377.29 L630.86,377.29 L631.02,377.29 L631.19,377.29 L631.35,377.28 L631.51,377.28 L631.68,377.28 L631.84,377.28 L632.00,377.28 L632.17,377.28 L632.33,377.28 L632.49,377.28 L632.65,377.28 L632.82,377.28 L632.98,377.28 L633.14,377.28 L633.31,377.28 L633.47,377.28 L633.63,377.28 L633.80,377.27 L633.96,377.27 L634.12,377.27 L634.28,377.27 L634.45,377.27 L634.61,377.27 L634.77,377.27 L634.94,377.27 L635.10,377.27 L635.26,377.27 L635.43,377.27 L635.59,377.27 L635.75,377.27 L635.91,377.27 L636.08,377.27 L636.24,377.26 L636.40,377.26 L636.57,377.26 L636.73,377.26 L636.89,377.26 L637.06,377.26 L637.22,377.26 L637.38,377.26 L637.54,377.26 L637.71,377.26 L637.87,377.26 L638.03,377.26 L638.20,377.26 L638.36,377.26 L638.52,377.26 L638.69,377.26 L638.85,377.26 L639.01,377.25 L639.17,377.25 L639.34,377.25 L639.50,377.25 L639.66,377.25 L639.83,377.25 L639.99,377.25 L640.15,377.25 L640.32,377.25 L640.48,377.25 L640.64,377.25 L640.80,377.25 L640.97,377.25 L641.13,377.25 L641.29,377.25 L641.46,377.25 L641.62,377.25 L641.78,377.24 L641.95,377.24 L642.11,377.24 L642.27,377.24 L642.43,377.24 L642.60,377.24 L642.76,377.24 L642.92,377.24 L643.09,377.24 L643.25,377.24 L643.41,377.24 L643.58,377.24 L643.74,377.24 L643.90,377.24 L644.07,377.24 L644.23,377.24 L644.39,377.24 L644.55,377.24 L644.72,377.23 L644.88,377.23 L645.04,377.23 L645.21,377.23 L645.37,377.23 L645.53,377.23 L645.69,377.23 L645.86,377.23 L646.02,377.23 L646.18,377.23 L646.35,377.23 L646.51,377.23 L646.67,377.23 L646.84,377.23 L647.00,377.23 L647.16,377.23 L647.33,377.23 L647.49,377.23 L647.65,377.23 L647.81,377.22 L647.98,377.22 L648.14,377.22 L648.30,377.22 L648.47,377.22 L648.63,377.22 L648.79,377.22 L648.95,377.22 L649.12,377.22 L649.28,377.22 L649.44,377.22 L649.61,377.22 L649.77,377.22 L649.93,377.22 L650.10,377.22 L650.26,377.22 L650.42,377.22 L650.59,377.22 L650.75,377.22 L650.91,377.22 L651.07,377.22 L651.24,377.21 L651.40,377.21 L651.56,377.21 L651.73,377.21 L651.89,377.21 L652.05,377.21 L652.22,377.21 L652.38,377.21 L652.54,377.21 L652.70,377.21 L652.87,377.21 L653.03,377.21 L653.19,377.21 L653.36,377.21 L653.52,377.21 L653.68,377.21 L653.85,377.21 L654.01,377.21 L654.17,377.21 L654.33,377.21 L654.50,377.21 L654.66,377.20 L654.82,377.20 L654.99,377.20 L655.15,377.20 L655.31,377.20 L655.48,377.20 L655.64,377.20 L655.80,377.20 L655.96,377.20 L656.13,377.20 L656.29,377.20 L656.45,377.20 L656.62,377.20 L656.78,377.20 L656.94,377.20 L657.11,377.20 L657.27,377.20 L657.43,377.20 L657.59,377.20 L657.76,377.20 L657.92,377.20 L658.08,377.20 L658.25,377.20 L658.41,377.19 L658.57,377.19 L658.74,377.19 L658.90,377.19 L659.06,377.19 L659.22,377.19 L659.39,377.19 L659.55,377.19 L659.71,377.19 L659.88,377.19 L660.04,377.19 L660.20,377.19 L660.37,377.19 L660.53,377.19 L660.69,377.19 L660.85,377.19 L661.02,377.19 L661.18,377.19 L661.34,377.19 L661.51,377.19 L661.67,377.19 L661.83,377.19 L662.00,377.19 L662.16,377.19 L662.32,377.19 L662.48,377.18 L662.65,377.18 L662.81,377.18 L662.97,377.18 L663.14,377.18 L663.30,377.18 L663.46,377.18 L663.62,377.18 L663.79,377.18 L663.95,377.18 L664.11,377.18 L664.28,377.18 L664.44,377.18 L664.60,377.18 L664.77,377.18 L664.93,377.18 L665.09,377.18 L665.25,377.18 L665.42,377.18 L665.58,377.18 L665.74,377.18 L665.91,377.18 L666.07,377.18 L666.23,377.18 L666.40,377.18 L666.56,377.18 L666.72,377.17 L666.88,377.17 L667.05,377.17 L667.21,377.17 L667.37,377.17 L667.54,377.17 L667.70,377.17" fill="none" stroke="#222222" stroke-width="1.1"/>
<path d="M406.90,375.37 L407.06,375.37 L407.23,375.37 L407.39,375.37 L407.55,375.37 L407.71,375.36 L407.88,375.36 L408.04,375.36 L408.20,375.36 L408.37,375.36 L408.53,375.36 L408.69,375.36 L408.86,375.36 L409.02,375.35 L409.18,375.35 L409.34,375.35 L409.51,375.35 L409.67,375.35 L409.83,375.35 L410.00,375.35 L410.16,375.35 L410.32,375.35 L410.49,375.34 L410.65,375.34 L410.81,375.34 L410.97,375.34 L411.14,375.34 L411.30,375.34 L411.46,375.34 L411.63,375.33 L411.79,375.33 L411.95,375.33 L412.12,375.33 L412.28,375.33 L412.44,375.33 L412.60,375.33 L412.77,375.33 L412.93,375.32 L413.09,375.32 L413.26,375.32 L413.42,375.32 L413.58,375.32 L413.75,375.32 L413.91,375.32 L414.07,375.32 L414.23,375.31 L414.40,375.31 L414.56,375.31 L414.72,375.31 L414.89,375.31 L415.05,375.31 L415.21,375.31 L415.38,375.30 L415.54,375.30 L415.70,375.30 L415.86,375.30 L416.03,375.30 L416.19,375.30 L416.35,375.30 L416.52,375.30 L416.68,375.29 L416.84,375.29 L417.01,375.29 L417.17,375.29 L417.33,375.29 L417.49,375.29 L417.66,375.29 L417.82,375.28 L417.98,375.28 L418.15,375.28 L418.31,375.28 L418.47,375.28 L418.64,375.28 L418.80,375.28 L418.96,375.27 L419.12,375.27 L419.29,375.27 L419.45,375.27 L419.61,375.27 L419.78,375.27 L419.94,375.27 L420.10,375.26 L420.27,375.26 L420.43,375.26 L420.59,375.26 L420.75,375.26 L420.92,375.26 L421.08,375.26 L421.24,375.25 L421.41,375.25 L421.57,375.25 L421.73,375.25 L421.90,375.25 L422.06,375.25 L422.22,375.24 L422.38,375.24 L422.55,375.24 L422.71,375.24 L422.87,375.24 L423.04,375.24 L423.20,375.24 L423.36,375.23 L423.53,375.23 L423.69,375.23 L423.85,375.23 L424.01,375.23 L424.18,375.23 L424.34,375.22 L424.50,375.22 L424.67,375.22 L424.83,375.22 L424.99,375.22 L425.16,375.22 L425.32,375.21 L425.48,375.21 L425.64,375.21 L425.81,375.21 L425.97,375.21 L426.13,375.21 L426.30,375.21 L426.46,375.20 L426.62,375.20 L426.79,375.20 L426.95,375.20 L427.11,375.20 L427.27,375.20 L427.44,375.19 L427.60,375.19 L427.76,375.19 L427.93,375.19 L428.09,375.19 L428.25,375.19 L428.42,375.18 L428.58,375.18 L428.74,375.18 L428.90,375.18 L429.07,375.18 L429.23,375.18 L429.39,375.17 L429.56,375.17 L429.72,375.17 L429.88,375.17 L430.05,375.17 L430.21,375.16 L430.37,375.16 L430.53,375.16 L430.70,375.16 L430.86,375.16 L431.02,375.16 L431.19,375.15 L431.35,375.15 L431.51,375.15 L431.68,375.15 L431.84,375.15 L432.00,375.15 L432.16,375.14 L432.33,375.14 L432.49,375.14 L432.65,375.14 L432.82,375.14 L432.98,375.13 L433.14,375.13 L433.31,375.13 L433.47,375.13 L433.63,375.13 L433.79,375.12 L433.96,375.12 L434.12,375.12 L434.28,375.12 L434.45,375.12 L434.61,375.12 L434.77,375.11 L434.94,375.11 L435.10,375.11 L435.26,375.11 L435.42,375.11 L435.59,375.10 L435.75,375.10 L435.91,375.10 L436.08,375.10 L436.24,375.10 L436.40,375.09 L436.57,375.09 L436.73,375.09 L436.89,375.09 L437.05,375.09 L437.22,375.08 L437.38,375.08 L437.54,375.08 L437.71,375.08 L437.87,375.08 L438.03,375.07 L438.20,375.07 L438.36,375.07 L438.52,375.07 L438.68,375.07 L438.85,375.06 L439.01,375.06 L439.17,375.06 L439.34,375.06 L439.50,375.06 L439.66,375.05 L439.83,375.05 L439.99,375.05 L440.15,375.05 L440.31,375.05 L440.48,375.04 L440.64,375.04 L440.80,375.04 L440.97,375.04 L441.13,375.03 L441.29,375.03 L441.46,375.03 L441.62,375.03 L441.78,375.03 L441.94,375.02 L442.11,375.02 L442.27,375.02 L442.43,375.02 L442.60,375.01 L442.76,375.01 L442.92,375.01 L443.09,375.01 L443.25,375.01 L443.41,375.00 L443.57,375.00 L443.74,375.00 L443.90,375.00 L444.06,374.99 L444.23,374.99 L444.39,374.99 L444.55,374.99 L444.72,374.98 L444.88,374.98 L445.04,374.98 L445.20,374.98 L445.37,374.98 L445.53,374.97 L445.69,374.97 L445.86,374.97 L446.02,374.97 L446.18,374.96 L446.35,374.96 L446.51,374.96 L446.67,374.96 L446.83,374.95 L447.00,374.95 L447.16,374.95 L447.32,374.95 L447.49,374.94 L447.65,374.94 L447.81,374.94 L447.98,374.94 L448.14,374.93 L448.30,374.93 L448.46,374.93 L448.63,374.93 L448.79,374.92 L448.95,374.92 L449.12,374.92 L449.28,374.92 L449.44,374.91 L449.61,374.91 L449.77,374.91 L449.93,374.91 L450.09,374.90 L450.26,374.90 L450.42,374.90 L450.58,374.90 L450.75,374.89 L450.91,374.89 L451.07,374.89 L451.24,374.88 L451.40,374.88 L451.56,374.88 L451.72,374.88 L451.89,374.87 L452.05,374.87 L452.21,374.87 L452.38,374.87 L452.54,374.86 L452.70,374.86 L452.87,374.86 L453.03,374.85 L453.19,374.85 L453.35,374.85 L453.52,374.85 L453.68,374.84 L453.84,374.84 L454.01,374.84 L454.17,374.83 L454.33,374.83 L454.50,374.83 L454.66,374.83 L454.82,374.82 L454.98,374.82 L455.15,374.82 L455.31,374.81 L455.47,374.81 L455.64,374.81 L455.80,374.80 L455.96,374.80 L456.13,374.80 L456.29,374.80 L456.45,374.79 L456.61,374.79 L456.78,374.79 L456.94,374.78 L457.10,374.78 L457.27,374.78 L457.43,374.77 L457.59,374.77 L457.76,374.77 L457.92,374.76 L458.08,374.76 L458.24,374.76 L458.41,374.76 L458.57,374.75 L458.73,374.75 L458.90,374.75 L459.06,374.74 L459.22,374.74 L459.39,374.74 L459.55,374.73 L459.71,374.73 L459.87,374.73 L460.04,374.72 L460.20,374.72 L460.36,374.72 L460.53,374.71 L460.69,374.71 L460.85,374.71 L461.02,374.70 L461.18,374.70 L461.34,374.70 L461.50,374.69 L461.67,374.69 L461.83,374.69 L461.99,374.68 L462.16,374.68 L462.32,374.67 L462.48,374.67 L462.65,374.67 L462.81,374.66 L462.97,374.66 L463.13,374.66 L463.30,374.65 L463.46,374.65 L463.62,374.65 L463.79,374.64 L463.95,374.64 L464.11,374.63 L464.28,374.63 L464.44,374.63 L464.60,374.62 L464.76,374.62 L464.93,374.62 L465.09,374.61 L465.25,374.61 L465.42,374.60 L465.58,374.60 L465.74,374.60 L465.91,374.59 L466.07,374.59 L466.23,374.59 L466.39,374.58 L466.56,374.58 L466.72,374.57 L466.88,374.57 L467.05,374.57 L467.21,374.56 L467.37,374.56 L467.54,374.55 L467.70,374.55 L467.86,374.55 L468.02,374.54 L468.19,374.54 L468.35,374.53 L468.51,374.53 L468.68,374.52 L468.84,374.52 L469.00,374.52 L469.17,374.51 L469.33,374.51 L469.49,374.50 L469.65,374.50 L469.82,374.49 L469.98,374.49 L470.14,374.49 L470.31,374.48 L470.47,374.48 L470.63,374.47 L470.80,374.47 L470.96,374.46 L471.12,374.46 L471.28,374.45 L471.45,374.45 L471.61,374.45 L471.77,374.44 L471.94,374.44 L472.10,374.43 L472.26,374.43 L472.43,374.42 L472.59,374.42 L472.75,374.41 L472.91,374.41 L473.08,374.40 L473.24,374.40 L473.40,374.39 L473.57,374.39 L473.73,374.38 L473.89,374.38 L474.06,374.37 L474.22,374.37 L474.38,374.36 L474.54,374.36 L474.71,374.35 L474.87,374.35 L475.03,374.34 L475.20,374.34 L475.36,374.33 L475.52,374.33 L475.69,374.32 L475.85,374.32 L476.01,374.31 L476.17,374.31 L476.34,374.30 L476.50,374.30 L476.66,374.29 L476.83,374.29 L476.99,374.28 L477.15,374.28 L477.32,374.27 L477.48,374.27 L477.64,374.26 L477.80,374.25 L477.97,374.25 L478.13,374.24 L478.29,374.24 L478.46,374.23 L478.62,374.23 L478.78,374.22 L478.95,374.21 L479.11,374.21 L479.27,374.20 L479.43,374.20 L479.60,374.19 L479.76,374.19 L479.92,374.18 L480.09,374.17 L480.25,374.17 L480.41,374.16 L480.58,374.16 L480.74,374.15 L480.90,374.14 L481.06,374.14 L481.23,374.13 L481.39,374.12 L481.55,374.12 L481.72,374.11 L481.88,374.11 L482.04,374.10 L482.21,374.09 L482.37,374.09 L482.53,374.08 L482.69,374.07 L482.86,374.07 L483.02,374.06 L483.18,374.05 L483.35,374.05 L483.51,374.04 L483.67,374.03 L483.84,374.03 L484.00,374.02 L484.16,374.01 L484.32,374.01 L484.49,374.00 L484.65,373.99 L484.81,373.98 L484.98,373.98 L485.14,373.97 L485.30,373.96 L485.47,373.96 L485.63,373.95 L485.79,373.94 L485.95,373.93 L486.12,373.93 L486.28,373.92 L486.44,373.91 L486.61,373.90 L486.77,373.90 L486.93,373.89 L487.10,373.88 L487.26,373.87 L487.42,373.87 L487.58,373.86 L487.75,373.85 L487.91,373.84 L488.07,373.83 L488.24,373.83 L488.40,373.82 L488.56,373.81 L488.73,373.80 L488.89,373.79 L489.05,373.79 L489.21,373.78 L489.38,373.77 L489.54,373.76 L489.70,373.75 L489.87,373.74 L490.03,373.73 L490.19,373.73 L490.36,373.72 L490.52,373.71 L490.68,373.70 L490.84,373.69 L491.01,373.68 L491.17,373.67 L491.33,373.66 L491.50,373.65 L491.66,373.65 L491.82,373.64 L491.99,373.63 L492.15,373.62 L492.31,373.61 L492.47,373.60 L492.64,373.59 L492.80,373.58 L492.96,373.57 L493.13,373.56 L493.29,373.55 L493.45,373.54 L493.62,373.53 L493.78,373.52 L493.94,373.51 L494.10,373.50 L494.27,373.49 L494.43,373.48 L494.59,373.47 L494.76,373.46 L494.92,373.45 L495.08,373.44 L495.25,373.43 L495.41,373.42 L495.57,373.40 L495.73,373.39 L495.90,373.38 L496.06,373.37 L496.22,373.36 L496.39,373.35 L496.55,373.34 L496.71,373.33 L496.88,373.31 L497.04,373.30 L497.20,373.29 L497.36,373.28 L497.53,373.27 L497.69,373.26 L497.85,373.24 L498.02,373.23 L498.18,373.22 L498.34,373.21 L498.51,373.19 L498.67,373.18 L498.83,373.17 L498.99,373.16 L499.16,373.14 L499.32,373.13 L499.48,373.12 L499.65,373.10 L499.81,373.09 L499.97,373.08 L500.14,373.06 L500.30,373.05 L500.46,373.04 L500.62,373.02 L500.79,373.01 L500.95,373.00 L501.11,372.98 L501.28,372.97 L501.44,372.95 L501.60,372.94 L501.77,372.92 L501.93,372.91 L502.09,372.89 L502.25,372.88 L502.42,372.86 L502.58,372.85 L502.74,372.83 L502.91,372.82 L503.07,372.80 L503.23,372.79 L503.40,372.77 L503.56,372.75 L503.72,372.74 L503.88,372.72 L504.05,372.70 L504.21,372.69 L504.37,372.67 L504.54,372.65 L504.70,372.64 L504.86,372.62 L505.03,372.60 L505.19,372.58 L505.35,372.57 L505.51,372.55 L505.68,372.53 L505.84,372.51 L506.00,372.49 L506.17,372.48 L506.33,372.46 L506.49,372.44 L506.66,372.42 L506.82,372.40 L506.98,372.38 L507.14,372.36 L507.31,372.34 L507.47,372.32 L507.63,372.30 L507.80,372.28 L507.96,372.26 L508.12,372.24 L508.29,372.22 L508.45,372.20 L508.61,372.17 L508.77,372.15 L508.94,372.13 L509.10,372.11 L509.26,372.09 L509.43,372.06 L509.59,372.04 L509.75,372.02 L509.92,371.99 L510.08,371.97 L510.24,371.95 L510.40,371.92 L510.57,371.90 L510.73,371.87 L510.89,371.85 L511.06,371.82 L511.22,371.80 L511.38,371.77 L511.55,371.75 L511.71,371.72 L511.87,371.69 L512.03,371.67 L512.20,371.64 L512.36,371.61 L512.52,371.59 L512.69,371.56 L512.85,371.53 L513.01,371.50 L513.18,371.47 L513.34,371.44 L513.50,371.41 L513.66,371.38 L513.83,371.35 L513.99,371.32 L514.15,371.29 L514.32,371.26 L514.48,371.23 L514.64,371.20 L514.81,371.16 L514.97,371.13 L515.13,371.10 L515.29,371.06 L515.46,371.03 L515.62,371.00 L515.78,370.96 L515.95,370.93 L516.11,370.89 L516.27,370.85 L516.44,370.82 L516.60,370.78 L516.76,370.74 L516.92,370.70 L517.09,370.67 L517.25,370.63 L517.41,370.59 L517.58,370.55 L517.74,370.51 L517.90,370.47 L518.07,370.42 L518.23,370.38 L518.39,370.34 L518.55,370.30 L518.72,370.25 L518.88,370.21 L519.04,370.16 L519.21,370.12 L519.37,370.07 L519.53,370.02 L519.70,369.98 L519.86,369.93 L520.02,369.88 L520.18,369.83 L520.35,369.78 L520.51,369.73 L520.67,369.68 L520.84,369.63 L521.00,369.57 L521.16,369.52 L521.33,369.47 L521.49,369.41 L521.65,369.35 L521.81,369.30 L521.98,369.24 L522.14,369.18 L522.30,369.12 L522.47,369.06 L522.63,369.00 L522.79,368.94 L522.96,368.88 L523.12,368.81 L523.28,368.75 L523.44,368.68 L523.61,368.61 L523.77,368.55 L523.93,368.48 L524.10,368.41 L524.26,368.34 L524.42,368.27 L524.59,368.19 L524.75,368.12 L524.91,368.04 L525.07,367.97 L525.24,367.89 L525.40,367.81 L525.56,367.73 L525.73,367.65 L525.89,367.57 L526.05,367.48 L526.22,367.40 L526.38,367.31 L526.54,367.22 L526.70,367.13 L526.87,367.04 L527.03,366.95 L527.19,366.86 L527.36,366.76 L527.52,366.66 L527.68,366.57 L527.85,366.47 L528.01,366.37 L528.17,366.26 L528.33,366.16 L528.50,366.05 L528.66,365.94 L528.82,365.83 L528.99,365.72 L529.15,365.61 L529.31,365.49 L529.48,365.38 L529.64,365.26 L529.80,365.14 L529.96,365.02 L530.13,364.89 L530.29,364.76 L530.45,364.63 L530.62,364.50 L530.78,364.37 L530.94,364.24 L531.11,364.10 L531.27,363.96 L531.43,363.82 L531.59,363.67 L531.76,363.53 L531.92,363.38 L532.08,363.22 L532.25,363.07 L532.41,362.91 L532.57,362.75 L532.74,362.59 L532.90,362.42 L533.06,362.25 L533.22,362.08 L533.39,361.90 L533.55,361.72 L533.71,361.54 L533.88,361.35 L534.04,361.15 L534.20,360.95 L534.37,360.75 L534.53,360.53 L534.69,360.31 L534.85,360.08 L535.02,359.83 L535.18,359.58 L535.34,359.30 L535.51,359.01 L535.67,358.69 L535.83,358.33 L536.00,357.93 L536.16,357.46 L536.32,356.89 L536.49,356.18 L536.65,355.22 L536.81,353.83 L536.97,351.60 L537.14,347.67 L537.30,341.27 L537.46,334.87 L537.63,330.94 L537.79,328.71 L537.95,327.33 L538.12,326.37 L538.28,325.66 L538.44,325.09 L538.60,324.62 L538.77,324.22 L538.93,323.86 L539.09,323.54 L539.26,323.24 L539.42,322.97 L539.58,322.71 L539.75,322.47 L539.91,322.24 L540.07,322.02 L540.23,321.80 L540.40,321.59 L540.56,321.39 L540.72,321.20 L540.89,321.01 L541.05,320.82 L541.21,320.64 L541.38,320.47 L541.54,320.29 L541.70,320.12 L541.86,319.96 L542.03,319.79 L542.19,319.63 L542.35,319.48 L542.52,319.32 L542.68,319.17 L542.84,319.02 L543.00,318.87 L543.17,318.73 L543.33,318.59 L543.49,318.45 L543.66,318.31 L543.82,318.18 L543.98,318.04 L544.15,317.91 L544.31,317.78 L544.47,317.66 L544.63,317.53 L544.80,317.41 L544.96,317.29 L545.12,317.17 L545.29,317.05 L545.45,316.94 L545.61,316.82 L545.78,316.71 L545.94,316.60 L546.10,316.49 L546.26,316.39 L546.43,316.28 L546.59,316.18 L546.75,316.08 L546.92,315.98 L547.08,315.88 L547.24,315.78 L547.41,315.69 L547.57,315.60 L547.73,315.50 L547.89,315.41 L548.06,315.32 L548.22,315.24 L548.38,315.15 L548.55,315.06 L548.71,314.98 L548.87,314.90 L549.04,314.82 L549.20,314.74 L549.36,314.66 L549.52,314.58 L549.69,314.50 L549.85,314.43 L550.01,314.35 L550.18,314.28 L550.34,314.21 L550.50,314.14 L550.67,314.07 L550.83,314.00 L550.99,313.93 L551.15,313.86 L551.32,313.80 L551.48,313.73 L551.64,313.67 L551.81,313.61 L551.97,313.55 L552.13,313.48 L552.30,313.42 L552.46,313.37 L552.62,313.31 L552.78,313.25 L552.95,313.19 L553.11,313.14 L553.27,313.08 L553.44,313.03 L553.60,312.97 L553.76,312.92 L553.93,312.87 L554.09,312.82 L554.25,312.77 L554.41,312.72 L554.58,312.67 L554.74,312.62 L554.90,312.57 L555.07,312.52 L555.23,312.47 L555.39,312.43 L555.56,312.38 L555.72,312.34 L555.88,312.29 L556.04,312.25 L556.21,312.21 L556.37,312.16 L556.53,312.12 L556.70,312.08 L556.86,312.04 L557.02,312.00 L557.19,311.96 L557.35,311.92 L557.51,311.88 L557.67,311.84 L557.84,311.80 L558.00,311.77 L558.16,311.73 L558.33,311.69 L558.49,311.66 L558.65,311.62 L558.82,311.59 L558.98,311.55 L559.14,311.52 L559.30,311.48 L559.47,311.45 L559.63,311.42 L559.79,311.38 L559.96,311.35 L560.12,311.32 L560.28,311.29 L560.45,311.26 L560.61,311.22 L560.77,311.19 L560.93,311.16 L561.10,311.13 L561.26,311.10 L561.42,311.07 L561.59,311.05 L561.75,311.02 L561.91,310.99 L562.08,310.96 L562.24,310.93 L562.40,310.91 L562.56,310.88 L562.73,310.85 L562.89,310.83 L563.05,310.80 L563.22,310.77 L563.38,310.75 L563.54,310.72 L563.71,310.70 L563.87,310.67 L564.03,310.65 L564.19,310.62 L564.36,310.60 L564.52,310.58 L564.68,310.55 L564.85,310.53 L565.01,310.51 L565.17,310.48 L565.34,310.46 L565.50,310.44 L565.66,310.42 L565.82,310.39 L565.99,310.37 L566.15,310.35 L566.31,310.33 L566.48,310.31 L566.64,310.29 L566.80,310.27 L566.97,310.25 L567.13,310.23 L567.29,310.21 L567.45,310.19 L567.62,310.17 L567.78,310.15 L567.94,310.13 L568.11,310.11 L568.27,310.09 L568.43,310.07 L568.60,310.05 L568.76,310.03 L568.92,310.02 L569.08,310.00 L569.25,309.98 L569.41,309.96 L569.57,309.94 L569.74,309.93 L569.90,309.91 L570.06,309.89 L570.23,309.88 L570.39,309.86 L570.55,309.84 L570.71,309.83 L570.88,309.81 L571.04,309.79 L571.20,309.78 L571.37,309.76 L571.53,309.74 L571.69,309.73 L571.86,309.71 L572.02,309.70 L572.18,309.68 L572.35,309.67 L572.51,309.65 L572.67,309.64 L572.83,309.62 L573.00,309.61 L573.16,309.59 L573.32,309.58 L573.49,309.57 L573.65,309.55 L573.81,309.54 L573.97,309.52 L574.14,309.51 L574.30,309.50 L574.46,309.48 L574.63,309.47 L574.79,309.45 L574.95,309.44 L575.12,309.43 L575.28,309.42 L575.44,309.40 L575.61,309.39 L575.77,309.38 L575.93,309.36 L576.09,309.35 L576.26,309.34 L576.42,309.33 L576.58,309.31 L576.75,309.30 L576.91,309.29 L577.07,309.28 L577.23,309.27 L577.40,309.25 L577.56,309.24 L577.72,309.23 L577.89,309.22 L578.05,309.21 L578.21,309.20 L578.38,309.19 L578.54,309.17 L578.70,309.16 L578.87,309.15 L579.03,309.14 L579.19,309.13 L579.35,309.12 L579.52,309.11 L579.68,309.10 L579.84,309.09 L580.01,309.08 L580.17,309.07 L580.33,309.06 L580.50,309.05 L580.66,309.04 L580.82,309.03 L580.98,309.02 L581.15,309.01 L581.31,309.00 L581.47,308.99 L581.64,308.98 L581.80,308.97 L581.96,308.96 L582.12,308.95 L582.29,308.94 L582.45,308.93 L582.61,308.92 L582.78,308.91 L582.94,308.90 L583.10,308.89 L583.27,308.88 L583.43,308.87 L583.59,308.86 L583.75,308.86 L583.92,308.85 L584.08,308.84 L584.24,308.83 L584.41,308.82 L584.57,308.81 L584.73,308.80 L584.90,308.79 L585.06,308.79 L585.22,308.78 L585.38,308.77 L585.55,308.76 L585.71,308.75 L585.87,308.74 L586.04,308.74 L586.20,308.73 L586.36,308.72 L586.53,308.71 L586.69,308.70 L586.85,308.70 L587.01,308.69 L587.18,308.68 L587.34,308.67 L587.50,308.66 L587.67,308.66 L587.83,308.65 L587.99,308.64 L588.16,308.63 L588.32,308.63 L588.48,308.62 L588.64,308.61 L588.81,308.60 L588.97,308.60 L589.13,308.59 L589.30,308.58 L589.46,308.58 L589.62,308.57 L589.79,308.56 L589.95,308.55 L590.11,308.55 L590.27,308.54 L590.44,308.53 L590.60,308.53 L590.76,308.52 L590.93,308.51 L591.09,308.51 L591.25,308.50 L591.42,308.49 L591.58,308.49 L591.74,308.48 L591.90,308.47 L592.07,308.47 L592.23,308.46 L592.39,308.45 L592.56,308.45 L592.72,308.44 L592.88,308.43 L593.05,308.43 L593.21,308.42 L593.37,308.42 L593.53,308.41 L593.70,308.40 L593.86,308.40 L594.02,308.39 L594.19,308.38 L594.35,308.38 L594.51,308.37 L594.68,308.37 L594.84,308.36 L595.00,308.36 L595.16,308.35 L595.33,308.34 L595.49,308.34 L595.65,308.33 L595.82,308.33 L595.98,308.32 L596.14,308.31 L596.31,308.31 L596.47,308.30 L596.63,308.30 L596.79,308.29 L596.96,308.29 L597.12,308.28 L597.28,308.28 L597.45,308.27 L597.61,308.26 L597.77,308.26 L597.94,308.25 L598.10,308.25 L598.26,308.24 L598.42,308.24 L598.59,308.23 L598.75,308.23 L598.91,308.22 L599.08,308.22 L599.24,308.21 L599.40,308.21 L599.57,308.20 L599.73,308.20 L599.89,308.19 L600.05,308.19 L600.22,308.18 L600.38,308.18 L600.54,308.17 L600.71,308.17 L600.87,308.16 L601.03,308.16 L601.20,308.15 L601.36,308.15 L601.52,308.14 L601.68,308.14 L601.85,308.13 L602.01,308.13 L602.17,308.12 L602.34,308.12 L602.50,308.11 L602.66,308.11 L602.83,308.11 L602.99,308.10 L603.15,308.10 L603.31,308.09 L603.48,308.09 L603.64,308.08 L603.80,308.08 L603.97,308.07 L604.13,308.07 L604.29,308.06 L604.46,308.06 L604.62,308.06 L604.78,308.05 L604.94,308.05 L605.11,308.04 L605.27,308.04 L605.43,308.03 L605.60,308.03 L605.76,308.03 L605.92,308.02 L606.09,308.02 L606.25,308.01 L606.41,308.01 L606.57,308.01 L606.74,308.00 L606.90,308.00 L607.06,307.99 L607.23,307.99 L607.39,307.98 L607.55,307.98 L607.72,307.98 L607.88,307.97 L608.04,307.97 L608.20,307.96 L608.37,307.96 L608.53,307.96 L608.69,307.95 L608.86,307.95 L609.02,307.95 L609.18,307.94 L609.35,307.94 L609.51,307.93 L609.67,307.93 L609.83,307.93 L610.00,307.92 L610.16,307.92 L610.32,307.91 L610.49,307.91 L610.65,307.91 L610.81,307.90 L610.98,307.90 L611.14,307.90 L611.30,307.89 L611.47,307.89 L611.63,307.89 L611.79,307.88 L611.95,307.88 L612.12,307.88 L612.28,307.87 L612.44,307.87 L612.61,307.86 L612.77,307.86 L612.93,307.86 L613.10,307.85 L613.26,307.85 L613.42,307.85 L613.58,307.84 L613.75,307.84 L613.91,307.84 L614.07,307.83 L614.24,307.83 L614.40,307.83 L614.56,307.82 L614.73,307.82 L614.89,307.82 L615.05,307.81 L615.21,307.81 L615.38,307.81 L615.54,307.80 L615.70,307.80 L615.87,307.80 L616.03,307.79 L616.19,307.79 L616.36,307.79 L616.52,307.78 L616.68,307.78 L616.84,307.78 L617.01,307.77 L617.17,307.77 L617.33,307.77 L617.50,307.77 L617.66,307.76 L617.82,307.76 L617.99,307.76 L618.15,307.75 L618.31,307.75 L618.47,307.75 L618.64,307.74 L618.80,307.74 L618.96,307.74 L619.13,307.74 L619.29,307.73 L619.45,307.73 L619.62,307.73 L619.78,307.72 L619.94,307.72 L620.10,307.72 L620.27,307.71 L620.43,307.71 L620.59,307.71 L620.76,307.71 L620.92,307.70 L621.08,307.70 L621.25,307.70 L621.41,307.69 L621.57,307.69 L621.73,307.69 L621.90,307.69 L622.06,307.68 L622.22,307.68 L622.39,307.68 L622.55,307.68 L622.71,307.67 L622.88,307.67 L623.04,307.67 L623.20,307.66 L623.36,307.66 L623.53,307.66 L623.69,307.66 L623.85,307.65 L624.02,307.65 L624.18,307.65 L624.34,307.65 L624.50,307.64 L624.67,307.64 L624.83,307.64 L624.99,307.64 L625.16,307.63 L625.32,307.63 L625.48,307.63 L625.65,307.62 L625.81,307.62 L625.97,307.62 L626.13,307.62 L626.30,307.61 L626.46,307.61 L626.62,307.61 L626.79,307.61 L626.95,307.60 L627.11,307.60 L627.28,307.60 L627.44,307.60 L627.60,307.59 L627.76,307.59 L627.93,307.59 L628.09,307.59 L628.25,307.59 L628.42,307.58 L628.58,307.58 L628.74,307.58 L628.91,307.58 L629.07,307.57 L629.23,307.57 L629.39,307.57 L629.56,307.57 L629.72,307.56 L629.88,307.56 L630.05,307.56 L630.21,307.56 L630.37,307.55 L630.54,307.55 L630.70,307.55 L630.86,307.55 L631.02,307.55 L631.19,307.54 L631.35,307.54 L631.51,307.54 L631.68,307.54 L631.84,307.53 L632.00,307.53 L632.17,307.53 L632.33,307.53 L632.49,307.52 L632.65,307.52 L632.82,307.52 L632.98,307.52 L633.14,307.52 L633.31,307.51 L633.47,307.51 L633.63,307.51 L633.80,307.51 L633.96,307.51 L634.12,307.50 L634.28,307.50 L634.45,307.50 L634.61,307.50 L634.77,307.49 L634.94,307.49 L635.10,307.49 L635.26,307.49 L635.43,307.49 L635.59,307.48 L635.75,307.48 L635.91,307.48 L636.08,307.48 L636.24,307.48 L636.40,307.47 L636.57,307.47 L636.73,307.47 L636.89,307.47 L637.06,307.47 L637.22,307.46 L637.38,307.46 L637.54,307.46 L637.71,307.46 L637.87,307.46 L638.03,307.45 L638.20,307.45 L638.36,307.45 L638.52,307.45 L638.69,307.45 L638.85,307.44 L639.01,307.44 L639.17,307.44 L639.34,307.44 L639.50,307.44 L639.66,307.43 L639.83,307.43 L639.99,307.43 L640.15,307.43 L640.32,307.43 L640.48,307.43 L640.64,307.42 L640.80,307.42 L640.97,307.42 L641.13,307.42 L641.29,307.42 L641.46,307.41 L641.62,307.41 L641.78,307.41 L641.95,307.41 L642.11,307.41 L642.27,307.40 L642.43,307.40 L642.60,307.40 L642.76,307.40 L642.92,307.40 L643.09,307.40 L643.25,307.39 L643.41,307.39 L643.58,307.39 L643.74,307.39 L643.90,307.39 L644.07,307.38 L644.23,307.38 L644.39,307.38 L644.55,307.38 L644.72,307.38 L644.88,307.38 L645.04,307.37 L645.21,307.37 L645.37,307.37 L645.53,307.37 L645.69,307.37 L645.86,307.37 L646.02,307.36 L646.18,307.36 L646.35,307.36 L646.51,307.36 L646.67,307.36 L646.84,307.36 L647.00,307.35 L647.16,307.35 L647.33,307.35 L647.49,307.35 L647.65,307.35 L647.81,307.35 L647.98,307.34 L648.14,307.34 L648.30,307.34 L648.47,307.34 L648.63,307.34 L648.79,307.34 L648.95,307.33 L649.12,307.33 L649.28,307.33 L649.44,307.33 L649.61,307.33 L649.77,307.33 L649.93,307.32 L650.10,307.32 L650.26,307.32 L650.42,307.32 L650.59,307.32 L650.75,307.32 L650.91,307.32 L651.07,307.31 L651.24,307.31 L651.40,307.31 L651.56,307.31 L651.73,307.31 L651.89,307.31 L652.05,307.30 L652.22,307.30 L652.38,307.30 L652.54,307.30 L652.70,307.30 L652.87,307.30 L653.03,307.30 L653.19,307.29 L653.36,307.29 L653.52,307.29 L653.68,307.29 L653.85,307.29 L654.01,307.29 L654.17,307.29 L654.33,307.28 L654.50,307.28 L654.66,307.28 L654.82,307.28 L654.99,307.28 L655.15,307.28 L655.31,307.27 L655.48,307.27 L655.64,307.27 L655.80,307.27 L655.96,307.27 L656.13,307.27 L656.29,307.27 L656.45,307.26 L656.62,307.26 L656.78,307.26 L656.94,307.26 L657.11,307.26 L657.27,307.26 L657.43,307.26 L657.59,307.26 L657.76,307.25 L657.92,307.25 L658.08,307.25 L658.25,307.25 L658.41,307.25 L658.57,307.25 L658.74,307.25 L658.90,307.24 L659.06,307.24 L659.22,307.24 L659.39,307.24 L659.55,307.24 L659.71,307.24 L659.88,307.24 L660.04,307.23 L660.20,307.23 L660.37,307.23 L660.53,307.23 L660.69,307.23 L660.85,307.23 L661.02,307.23 L661.18,307.23 L661.34,307.22 L661.51,307.22 L661.67,307.22 L661.83,307.22 L662.00,307.22 L662.16,307.22 L662.32,307.22 L662.48,307.21 L662.65,307.21 L662.81,307.21 L662.97,307.21 L663.14,307.21 L663.30,307.21 L663.46,307.21 L663.62,307.21 L663.79,307.20 L663.95,307.20 L664.11,307.20 L664.28,307.20 L664.44,307.20 L664.60,307.20 L664.77,307.20 L664.93,307.20 L665.09,307.19 L665.25,307.19 L665.42,307.19 L665.58,307.19 L665.74,307.19 L665.91,307.19 L666.07,307.19 L666.23,307.19 L666.40,307.19 L666.56,307.18 L666.72,307.18 L666.88,307.18 L667.05,307.18 L667.21,307.18 L667.37,307.18 L667.54,307.18 L667.70,307.18" fill="none" stroke="#2020ff" stroke-width="1.1"/>
<path d="M406.90,374.26 L407.06,374.26 L407.23,374.26 L407.39,374.25 L407.55,374.25 L407.71,374.25 L407.88,374.25 L408.04,374.24 L408.20,374.24 L408.37,374.24 L408.53,374.24 L408.69,374.23 L408.86,374.23 L409.02,374.23 L409.18,374.23 L409.34,374.22 L409.51,374.22 L409.67,374.22 L409.83,374.21 L410.00,374.21 L410.16,374.21 L410.32,374.21 L410.49,374.20 L410.65,374.20 L410.81,374.20 L410.97,374.20 L411.14,374.19 L411.30,374.19 L411.46,374.19 L411.63,374.19 L411.79,374.18 L411.95,374.18 L412.12,374.18 L412.28,374.17 L412.44,374.17 L412.60,374.17 L412.77,374.17 L412.93,374.16 L413.09,374.16 L413.26,374.16 L413.42,374.15 L413.58,374.15 L413.75,374.15 L413.91,374.15 L414.07,374.14 L414.23,374.14 L414.40,374.14 L414.56,374.13 L414.72,374.13 L414.89,374.13 L415.05,374.13 L415.21,374.12 L415.38,374.12 L415.54,374.12 L415.70,374.11 L415.86,374.11 L416.03,374.11 L416.19,374.11 L416.35,374.10 L416.52,374.10 L416.68,374.10 L416.84,374.09 L417.01,374.09 L417.17,374.09 L417.33,374.08 L417.49,374.08 L417.66,374.08 L417.82,374.08 L417.98,374.07 L418.15,374.07 L418.31,374.07 L418.47,374.06 L418.64,374.06 L418.80,374.06 L418.96,374.05 L419.12,374.05 L419.29,374.05 L419.45,374.04 L419.61,374.04 L419.78,374.04 L419.94,374.04 L420.10,374.03 L420.27,374.03 L420.43,374.03 L420.59,374.02 L420.75,374.02 L420.92,374.02 L421.08,374.01 L421.24,374.01 L421.41,374.01 L421.57,374.00 L421.73,374.00 L421.90,374.00 L422.06,373.99 L422.22,373.99 L422.38,373.99 L422.55,373.98 L422.71,373.98 L422.87,373.98 L423.04,373.97 L423.20,373.97 L423.36,373.97 L423.53,373.96 L423.69,373.96 L423.85,373.96 L424.01,373.95 L424.18,373.95 L424.34,373.95 L424.50,373.94 L424.67,373.94 L424.83,373.94 L424.99,373.93 L425.16,373.93 L425.32,373.93 L425.48,373.92 L425.64,373.92 L425.81,373.92 L425.97,373.91 L426.13,373.91 L426.30,373.91 L426.46,373.90 L426.62,373.90 L426.79,373.90 L426.95,373.89 L427.11,373.89 L427.27,373.88 L427.44,373.88 L427.60,373.88 L427.76,373.87 L427.93,373.87 L428.09,373.87 L428.25,373.86 L428.42,373.86 L428.58,373.86 L428.74,373.85 L428.90,373.85 L429.07,373.84 L429.23,373.84 L429.39,373.84 L429.56,373.83 L429.72,373.83 L429.88,373.83 L430.05,373.82 L430.21,373.82 L430.37,373.82 L430.53,373.81 L430.70,373.81 L430.86,373.80 L431.02,373.80 L431.19,373.80 L431.35,373.79 L431.51,373.79 L431.68,373.78 L431.84,373.78 L432.00,373.78 L432.16,373.77 L432.33,373.77 L432.49,373.77 L432.65,373.76 L432.82,373.76 L432.98,373.75 L433.14,373.75 L433.31,373.75 L433.47,373.74 L433.63,373.74 L433.79,373.73 L433.96,373.73 L434.12,373.73 L434.28,373.72 L434.45,373.72 L434.61,373.71 L434.77,373.71 L434.94,373.70 L435.10,373.70 L435.26,373.70 L435.42,373.69 L435.59,373.69 L435.75,373.68 L435.91,373.68 L436.08,373.68 L436.24,373.67 L436.40,373.67 L436.57,373.66 L436.73,373.66 L436.89,373.65 L437.05,373.65 L437.22,373.65 L437.38,373.64 L437.54,373.64 L437.71,373.63 L437.87,373.63 L438.03,373.62 L438.20,373.62 L438.36,373.62 L438.52,373.61 L438.68,373.61 L438.85,373.60 L439.01,373.60 L439.17,373.59 L439.34,373.59 L439.50,373.58 L439.66,373.58 L439.83,373.58 L439.99,373.57 L440.15,373.57 L440.31,373.56 L440.48,373.56 L440.64,373.55 L440.80,373.55 L440.97,373.54 L441.13,373.54 L441.29,373.53 L441.46,373.53 L441.62,373.52 L441.78,373.52 L441.94,373.52 L442.11,373.51 L442.27,373.51 L442.43,373.50 L442.60,373.50 L442.76,373.49 L442.92,373.49 L443.09,373.48 L443.25,373.48 L443.41,373.47 L443.57,373.47 L443.74,373.46 L443.90,373.46 L444.06,373.45 L444.23,373.45 L444.39,373.44 L444.55,373.44 L444.72,373.43 L444.88,373.43 L445.04,373.42 L445.20,373.42 L445.37,373.41 L445.53,373.41 L445.69,373.40 L445.86,373.40 L446.02,373.39 L446.18,373.39 L446.35,373.38 L446.51,373.38 L446.67,373.37 L446.83,373.37 L447.00,373.36 L447.16,373.36 L447.32,373.35 L447.49,373.35 L447.65,373.34 L447.81,373.33 L447.98,373.33 L448.14,373.32 L448.30,373.32 L448.46,373.31 L448.63,373.31 L448.79,373.30 L448.95,373.30 L449.12,373.29 L449.28,373.29 L449.44,373.28 L449.61,373.27 L449.77,373.27 L449.93,373.26 L450.09,373.26 L450.26,373.25 L450.42,373.25 L450.58,373.24 L450.75,373.24 L450.91,373.23 L451.07,373.22 L451.24,373.22 L451.40,373.21 L451.56,373.21 L451.72,373.20 L451.89,373.20 L452.05,373.19 L452.21,373.18 L452.38,373.18 L452.54,373.17 L452.70,373.17 L452.87,373.16 L453.03,373.15 L453.19,373.15 L453.35,373.14 L453.52,373.14 L453.68,373.13 L453.84,373.12 L454.01,373.12 L454.17,373.11 L454.33,373.10 L454.50,373.10 L454.66,373.09 L454.82,373.09 L454.98,373.08 L455.15,373.07 L455.31,373.07 L455.47,373.06 L455.64,373.05 L455.80,373.05 L455.96,373.04 L456.13,373.04 L456.29,373.03 L456.45,373.02 L456.61,373.02 L456.78,373.01 L456.94,373.00 L457.10,373.00 L457.27,372.99 L457.43,372.98 L457.59,372.98 L457.76,372.97 L457.92,372.96 L458.08,372.96 L458.24,372.95 L458.41,372.94 L458.57,372.94 L458.73,372.93 L458.90,372.92 L459.06,372.91 L459.22,372.91 L459.39,372.90 L459.55,372.89 L459.71,372.89 L459.87,372.88 L460.04,372.87 L460.20,372.87 L460.36,372.86 L460.53,372.85 L460.69,372.84 L460.85,372.84 L461.02,372.83 L461.18,372.82 L461.34,372.82 L461.50,372.81 L461.67,372.80 L461.83,372.79 L461.99,372.79 L462.16,372.78 L462.32,372.77 L462.48,372.76 L462.65,372.76 L462.81,372.75 L462.97,372.74 L463.13,372.73 L463.30,372.72 L463.46,372.72 L463.62,372.71 L463.79,372.70 L463.95,372.69 L464.11,372.69 L464.28,372.68 L464.44,372.67 L464.60,372.66 L464.76,372.65 L464.93,372.65 L465.09,372.64 L465.25,372.63 L465.42,372.62 L465.58,372.61 L465.74,372.61 L465.91,372.60 L466.07,372.59 L466.23,372.58 L466.39,372.57 L466.56,372.56 L466.72,372.56 L466.88,372.55 L467.05,372.54 L467.21,372.53 L467.37,372.52 L467.54,372.51 L467.70,372.50 L467.86,372.50 L468.02,372.49 L468.19,372.48 L468.35,372.47 L468.51,372.46 L468.68,372.45 L468.84,372.44 L469.00,372.43 L469.17,372.42 L469.33,372.42 L469.49,372.41 L469.65,372.40 L469.82,372.39 L469.98,372.38 L470.14,372.37 L470.31,372.36 L470.47,372.35 L470.63,372.34 L470.80,372.33 L470.96,372.32 L471.12,372.31 L471.28,372.30 L471.45,372.29 L471.61,372.28 L471.77,372.27 L471.94,372.26 L472.10,372.25 L472.26,372.24 L472.43,372.23 L472.59,372.23 L472.75,372.22 L472.91,372.20 L473.08,372.19 L473.24,372.18 L473.40,372.17 L473.57,372.16 L473.73,372.15 L473.89,372.14 L474.06,372.13 L474.22,372.12 L474.38,372.11 L474.54,372.10 L474.71,372.09 L474.87,372.08 L475.03,372.07 L475.20,372.06 L475.36,372.05 L475.52,372.04 L475.69,372.03 L475.85,372.02 L476.01,372.00 L476.17,371.99 L476.34,371.98 L476.50,371.97 L476.66,371.96 L476.83,371.95 L476.99,371.94 L477.15,371.93 L477.32,371.91 L477.48,371.90 L477.64,371.89 L477.80,371.88 L477.97,371.87 L478.13,371.86 L478.29,371.84 L478.46,371.83 L478.62,371.82 L478.78,371.81 L478.95,371.80 L479.11,371.78 L479.27,371.77 L479.43,371.76 L479.60,371.75 L479.76,371.73 L479.92,371.72 L480.09,371.71 L480.25,371.70 L480.41,371.68 L480.58,371.67 L480.74,371.66 L480.90,371.65 L481.06,371.63 L481.23,371.62 L481.39,371.61 L481.55,371.59 L481.72,371.58 L481.88,371.57 L482.04,371.55 L482.21,371.54 L482.37,371.53 L482.53,371.51 L482.69,371.50 L482.86,371.49 L483.02,371.47 L483.18,371.46 L483.35,371.44 L483.51,371.43 L483.67,371.42 L483.84,371.40 L484.00,371.39 L484.16,371.37 L484.32,371.36 L484.49,371.34 L484.65,371.33 L484.81,371.31 L484.98,371.30 L485.14,371.29 L485.30,371.27 L485.47,371.26 L485.63,371.24 L485.79,371.22 L485.95,371.21 L486.12,371.19 L486.28,371.18 L486.44,371.16 L486.61,371.15 L486.77,371.13 L486.93,371.12 L487.10,371.10 L487.26,371.08 L487.42,371.07 L487.58,371.05 L487.75,371.03 L487.91,371.02 L488.07,371.00 L488.24,370.98 L488.40,370.97 L488.56,370.95 L488.73,370.93 L488.89,370.92 L489.05,370.90 L489.21,370.88 L489.38,370.87 L489.54,370.85 L489.70,370.83 L489.87,370.81 L490.03,370.79 L490.19,370.78 L490.36,370.76 L490.52,370.74 L490.68,370.72 L490.84,370.70 L491.01,370.69 L491.17,370.67 L491.33,370.65 L491.50,370.63 L491.66,370.61 L491.82,370.59 L491.99,370.57 L492.15,370.55 L492.31,370.53 L492.47,370.51 L492.64,370.49 L492.80,370.47 L492.96,370.45 L493.13,370.43 L493.29,370.41 L493.45,370.39 L493.62,370.37 L493.78,370.35 L493.94,370.33 L494.10,370.31 L494.27,370.29 L494.43,370.27 L494.59,370.25 L494.76,370.22 L494.92,370.20 L495.08,370.18 L495.25,370.16 L495.41,370.14 L495.57,370.11 L495.73,370.09 L495.90,370.07 L496.06,370.05 L496.22,370.02 L496.39,370.00 L496.55,369.98 L496.71,369.95 L496.88,369.93 L497.04,369.91 L497.20,369.88 L497.36,369.86 L497.53,369.83 L497.69,369.81 L497.85,369.78 L498.02,369.76 L498.18,369.73 L498.34,369.71 L498.51,369.68 L498.67,369.66 L498.83,369.63 L498.99,369.61 L499.16,369.58 L499.32,369.55 L499.48,369.53 L499.65,369.50 L499.81,369.47 L499.97,369.45 L500.14,369.42 L500.30,369.39 L500.46,369.36 L500.62,369.34 L500.79,369.31 L500.95,369.28 L501.11,369.25 L501.28,369.22 L501.44,369.19 L501.60,369.16 L501.77,369.13 L501.93,369.10 L502.09,369.07 L502.25,369.04 L502.42,369.01 L502.58,368.98 L502.74,368.95 L502.91,368.92 L503.07,368.89 L503.23,368.86 L503.40,368.82 L503.56,368.79 L503.72,368.76 L503.88,368.73 L504.05,368.69 L504.21,368.66 L504.37,368.63 L504.54,368.59 L504.70,368.56 L504.86,368.52 L505.03,368.49 L505.19,368.45 L505.35,368.42 L505.51,368.38 L505.68,368.35 L505.84,368.31 L506.00,368.27 L506.17,368.24 L506.33,368.20 L506.49,368.16 L506.66,368.12 L506.82,368.09 L506.98,368.05 L507.14,368.01 L507.31,367.97 L507.47,367.93 L507.63,367.89 L507.80,367.85 L507.96,367.81 L508.12,367.77 L508.29,367.73 L508.45,367.68 L508.61,367.64 L508.77,367.60 L508.94,367.56 L509.10,367.51 L509.26,367.47 L509.43,367.43 L509.59,367.38 L509.75,367.34 L509.92,367.29 L510.08,367.24 L510.24,367.20 L510.40,367.15 L510.57,367.10 L510.73,367.06 L510.89,367.01 L511.06,366.96 L511.22,366.91 L511.38,366.86 L511.55,366.81 L511.71,366.76 L511.87,366.71 L512.03,366.66 L512.20,366.61 L512.36,366.55 L512.52,366.50 L512.69,366.45 L512.85,366.39 L513.01,366.34 L513.18,366.28 L513.34,366.23 L513.50,366.17 L513.66,366.11 L513.83,366.06 L513.99,366.00 L514.15,365.94 L514.32,365.88 L514.48,365.82 L514.64,365.76 L514.81,365.70 L514.97,365.64 L515.13,365.57 L515.29,365.51 L515.46,365.45 L515.62,365.38 L515.78,365.32 L515.95,365.25 L516.11,365.18 L516.27,365.12 L516.44,365.05 L516.60,364.98 L516.76,364.91 L516.92,364.84 L517.09,364.77 L517.25,364.69 L517.41,364.62 L517.58,364.55 L517.74,364.47 L517.90,364.40 L518.07,364.32 L518.23,364.24 L518.39,364.17 L518.55,364.09 L518.72,364.01 L518.88,363.93 L519.04,363.84 L519.21,363.76 L519.37,363.68 L519.53,363.59 L519.70,363.51 L519.86,363.42 L520.02,363.33 L520.18,363.24 L520.35,363.15 L520.51,363.06 L520.67,362.97 L520.84,362.87 L521.00,362.78 L521.16,362.68 L521.33,362.58 L521.49,362.49 L521.65,362.39 L521.81,362.29 L521.98,362.18 L522.14,362.08 L522.30,361.97 L522.47,361.87 L522.63,361.76 L522.79,361.65 L522.96,361.54 L523.12,361.43 L523.28,361.31 L523.44,361.20 L523.61,361.08 L523.77,360.96 L523.93,360.84 L524.10,360.72 L524.26,360.60 L524.42,360.47 L524.59,360.34 L524.75,360.22 L524.91,360.09 L525.07,359.95 L525.24,359.82 L525.40,359.68 L525.56,359.54 L525.73,359.40 L525.89,359.26 L526.05,359.12 L526.22,358.97 L526.38,358.82 L526.54,358.67 L526.70,358.52 L526.87,358.36 L527.03,358.20 L527.19,358.04 L527.36,357.88 L527.52,357.71 L527.68,357.54 L527.85,357.37 L528.01,357.20 L528.17,357.02 L528.33,356.84 L528.50,356.66 L528.66,356.48 L528.82,356.29 L528.99,356.10 L529.15,355.90 L529.31,355.71 L529.48,355.51 L529.64,355.30 L529.80,355.09 L529.96,354.88 L530.13,354.67 L530.29,354.45 L530.45,354.23 L530.62,354.00 L530.78,353.78 L530.94,353.54 L531.11,353.30 L531.27,353.06 L531.43,352.82 L531.59,352.57 L531.76,352.32 L531.92,352.06 L532.08,351.80 L532.25,351.53 L532.41,351.26 L532.57,350.98 L532.74,350.70 L532.90,350.42 L533.06,350.13 L533.22,349.84 L533.39,349.54 L533.55,349.24 L533.71,348.93 L533.88,348.62 L534.04,348.30 L534.20,347.98 L534.37,347.66 L534.53,347.33 L534.69,347.00 L534.85,346.66 L535.02,346.32 L535.18,345.98 L535.34,345.63 L535.51,345.28 L535.67,344.93 L535.83,344.57 L536.00,344.21 L536.16,343.85 L536.32,343.48 L536.49,343.12 L536.65,342.75 L536.81,342.38 L536.97,342.01 L537.14,341.64 L537.30,341.27 L537.46,340.90 L537.63,340.53 L537.79,340.16 L537.95,339.79 L538.12,339.43 L538.28,339.06 L538.44,338.70 L538.60,338.34 L538.77,337.98 L538.93,337.62 L539.09,337.27 L539.26,336.92 L539.42,336.57 L539.58,336.22 L539.75,335.88 L539.91,335.55 L540.07,335.21 L540.23,334.89 L540.40,334.56 L540.56,334.24 L540.72,333.93 L540.89,333.62 L541.05,333.31 L541.21,333.01 L541.38,332.71 L541.54,332.42 L541.70,332.13 L541.86,331.84 L542.03,331.56 L542.19,331.29 L542.35,331.02 L542.52,330.75 L542.68,330.49 L542.84,330.23 L543.00,329.98 L543.17,329.73 L543.33,329.48 L543.49,329.24 L543.66,329.00 L543.82,328.77 L543.98,328.54 L544.15,328.32 L544.31,328.09 L544.47,327.88 L544.63,327.66 L544.80,327.45 L544.96,327.24 L545.12,327.04 L545.29,326.84 L545.45,326.64 L545.61,326.45 L545.78,326.26 L545.94,326.07 L546.10,325.88 L546.26,325.70 L546.43,325.52 L546.59,325.35 L546.75,325.17 L546.92,325.00 L547.08,324.83 L547.24,324.67 L547.41,324.50 L547.57,324.34 L547.73,324.19 L547.89,324.03 L548.06,323.88 L548.22,323.73 L548.38,323.58 L548.55,323.43 L548.71,323.29 L548.87,323.14 L549.04,323.00 L549.20,322.86 L549.36,322.73 L549.52,322.59 L549.69,322.46 L549.85,322.33 L550.01,322.20 L550.18,322.07 L550.34,321.95 L550.50,321.83 L550.67,321.70 L550.83,321.58 L550.99,321.47 L551.15,321.35 L551.32,321.23 L551.48,321.12 L551.64,321.01 L551.81,320.90 L551.97,320.79 L552.13,320.68 L552.30,320.57 L552.46,320.47 L552.62,320.36 L552.78,320.26 L552.95,320.16 L553.11,320.06 L553.27,319.96 L553.44,319.86 L553.60,319.77 L553.76,319.67 L553.93,319.58 L554.09,319.49 L554.25,319.40 L554.41,319.31 L554.58,319.22 L554.74,319.13 L554.90,319.04 L555.07,318.95 L555.23,318.87 L555.39,318.79 L555.56,318.70 L555.72,318.62 L555.88,318.54 L556.04,318.46 L556.21,318.38 L556.37,318.30 L556.53,318.22 L556.70,318.15 L556.86,318.07 L557.02,318.00 L557.19,317.92 L557.35,317.85 L557.51,317.78 L557.67,317.71 L557.84,317.64 L558.00,317.57 L558.16,317.50 L558.33,317.43 L558.49,317.36 L558.65,317.30 L558.82,317.23 L558.98,317.16 L559.14,317.10 L559.30,317.04 L559.47,316.97 L559.63,316.91 L559.79,316.85 L559.96,316.79 L560.12,316.73 L560.28,316.67 L560.45,316.61 L560.61,316.55 L560.77,316.49 L560.93,316.43 L561.10,316.37 L561.26,316.32 L561.42,316.26 L561.59,316.21 L561.75,316.15 L561.91,316.10 L562.08,316.05 L562.24,315.99 L562.40,315.94 L562.56,315.89 L562.73,315.84 L562.89,315.78 L563.05,315.73 L563.22,315.68 L563.38,315.63 L563.54,315.59 L563.71,315.54 L563.87,315.49 L564.03,315.44 L564.19,315.39 L564.36,315.35 L564.52,315.30 L564.68,315.26 L564.85,315.21 L565.01,315.17 L565.17,315.12 L565.34,315.08 L565.50,315.03 L565.66,314.99 L565.82,314.95 L565.99,314.90 L566.15,314.86 L566.31,314.82 L566.48,314.78 L566.64,314.74 L566.80,314.70 L566.97,314.66 L567.13,314.62 L567.29,314.58 L567.45,314.54 L567.62,314.50 L567.78,314.46 L567.94,314.42 L568.11,314.38 L568.27,314.35 L568.43,314.31 L568.60,314.27 L568.76,314.24 L568.92,314.20 L569.08,314.16 L569.25,314.13 L569.41,314.09 L569.57,314.06 L569.74,314.02 L569.90,313.99 L570.06,313.95 L570.23,313.92 L570.39,313.89 L570.55,313.85 L570.71,313.82 L570.88,313.79 L571.04,313.75 L571.20,313.72 L571.37,313.69 L571.53,313.66 L571.69,313.63 L571.86,313.60 L572.02,313.56 L572.18,313.53 L572.35,313.50 L572.51,313.47 L572.67,313.44 L572.83,313.41 L573.00,313.38 L573.16,313.35 L573.32,313.32 L573.49,313.30 L573.65,313.27 L573.81,313.24 L573.97,313.21 L574.14,313.18 L574.30,313.15 L574.46,313.13 L574.63,313.10 L574.79,313.07 L574.95,313.05 L575.12,313.02 L575.28,312.99 L575.44,312.97 L575.61,312.94 L575.77,312.91 L575.93,312.89 L576.09,312.86 L576.26,312.84 L576.42,312.81 L576.58,312.79 L576.75,312.76 L576.91,312.74 L577.07,312.71 L577.23,312.69 L577.40,312.66 L577.56,312.64 L577.72,312.62 L577.89,312.59 L578.05,312.57 L578.21,312.55 L578.38,312.52 L578.54,312.50 L578.70,312.48 L578.87,312.46 L579.03,312.43 L579.19,312.41 L579.35,312.39 L579.52,312.37 L579.68,312.34 L579.84,312.32 L580.01,312.30 L580.17,312.28 L580.33,312.26 L580.50,312.24 L580.66,312.22 L580.82,312.20 L580.98,312.17 L581.15,312.15 L581.31,312.13 L581.47,312.11 L581.64,312.09 L581.80,312.07 L581.96,312.05 L582.12,312.03 L582.29,312.01 L582.45,311.99 L582.61,311.97 L582.78,311.96 L582.94,311.94 L583.10,311.92 L583.27,311.90 L583.43,311.88 L583.59,311.86 L583.75,311.84 L583.92,311.82 L584.08,311.81 L584.24,311.79 L584.41,311.77 L584.57,311.75 L584.73,311.73 L584.90,311.72 L585.06,311.70 L585.22,311.68 L585.38,311.66 L585.55,311.65 L585.71,311.63 L585.87,311.61 L586.04,311.59 L586.20,311.58 L586.36,311.56 L586.53,311.54 L586.69,311.53 L586.85,311.51 L587.01,311.50 L587.18,311.48 L587.34,311.46 L587.50,311.45 L587.67,311.43 L587.83,311.41 L587.99,311.40 L588.16,311.38 L588.32,311.37 L588.48,311.35 L588.64,311.34 L588.81,311.32 L588.97,311.31 L589.13,311.29 L589.30,311.28 L589.46,311.26 L589.62,311.25 L589.79,311.23 L589.95,311.22 L590.11,311.20 L590.27,311.19 L590.44,311.17 L590.60,311.16 L590.76,311.14 L590.93,311.13 L591.09,311.12 L591.25,311.10 L591.42,311.09 L591.58,311.07 L591.74,311.06 L591.90,311.05 L592.07,311.03 L592.23,311.02 L592.39,311.01 L592.56,310.99 L592.72,310.98 L592.88,310.97 L593.05,310.95 L593.21,310.94 L593.37,310.93 L593.53,310.91 L593.70,310.90 L593.86,310.89 L594.02,310.87 L594.19,310.86 L594.35,310.85 L594.51,310.84 L594.68,310.82 L594.84,310.81 L595.00,310.80 L595.16,310.79 L595.33,310.77 L595.49,310.76 L595.65,310.75 L595.82,310.74 L595.98,310.73 L596.14,310.71 L596.31,310.70 L596.47,310.69 L596.63,310.68 L596.79,310.67 L596.96,310.65 L597.12,310.64 L597.28,310.63 L597.45,310.62 L597.61,310.61 L597.77,310.60 L597.94,310.59 L598.10,310.57 L598.26,310.56 L598.42,310.55 L598.59,310.54 L598.75,310.53 L598.91,310.52 L599.08,310.51 L599.24,310.50 L599.40,310.49 L599.57,310.48 L599.73,310.47 L599.89,310.45 L600.05,310.44 L600.22,310.43 L600.38,310.42 L600.54,310.41 L600.71,310.40 L600.87,310.39 L601.03,310.38 L601.20,310.37 L601.36,310.36 L601.52,310.35 L601.68,310.34 L601.85,310.33 L602.01,310.32 L602.17,310.31 L602.34,310.30 L602.50,310.29 L602.66,310.28 L602.83,310.27 L602.99,310.26 L603.15,310.25 L603.31,310.24 L603.48,310.23 L603.64,310.22 L603.80,310.21 L603.97,310.20 L604.13,310.20 L604.29,310.19 L604.46,310.18 L604.62,310.17 L604.78,310.16 L604.94,310.15 L605.11,310.14 L605.27,310.13 L605.43,310.12 L605.60,310.11 L605.76,310.10 L605.92,310.09 L606.09,310.09 L606.25,310.08 L606.41,310.07 L606.57,310.06 L606.74,310.05 L606.90,310.04 L607.06,310.03 L607.23,310.02 L607.39,310.02 L607.55,310.01 L607.72,310.00 L607.88,309.99 L608.04,309.98 L608.20,309.97 L608.37,309.97 L608.53,309.96 L608.69,309.95 L608.86,309.94 L609.02,309.93 L609.18,309.92 L609.35,309.92 L609.51,309.91 L609.67,309.90 L609.83,309.89 L610.00,309.88 L610.16,309.88 L610.32,309.87 L610.49,309.86 L610.65,309.85 L610.81,309.84 L610.98,309.84 L611.14,309.83 L611.30,309.82 L611.47,309.81 L611.63,309.81 L611.79,309.80 L611.95,309.79 L612.12,309.78 L612.28,309.78 L612.44,309.77 L612.61,309.76 L612.77,309.75 L612.93,309.75 L613.10,309.74 L613.26,309.73 L613.42,309.72 L613.58,309.72 L613.75,309.71 L613.91,309.70 L614.07,309.69 L614.24,309.69 L614.40,309.68 L614.56,309.67 L614.73,309.67 L614.89,309.66 L615.05,309.65 L615.21,309.65 L615.38,309.64 L615.54,309.63 L615.70,309.62 L615.87,309.62 L616.03,309.61 L616.19,309.60 L616.36,309.60 L616.52,309.59 L616.68,309.58 L616.84,309.58 L617.01,309.57 L617.17,309.56 L617.33,309.56 L617.50,309.55 L617.66,309.54 L617.82,309.54 L617.99,309.53 L618.15,309.52 L618.31,309.52 L618.47,309.51 L618.64,309.50 L618.80,309.50 L618.96,309.49 L619.13,309.49 L619.29,309.48 L619.45,309.47 L619.62,309.47 L619.78,309.46 L619.94,309.45 L620.10,309.45 L620.27,309.44 L620.43,309.44 L620.59,309.43 L620.76,309.42 L620.92,309.42 L621.08,309.41 L621.25,309.40 L621.41,309.40 L621.57,309.39 L621.73,309.39 L621.90,309.38 L622.06,309.37 L622.22,309.37 L622.39,309.36 L622.55,309.36 L622.71,309.35 L622.88,309.35 L623.04,309.34 L623.20,309.33 L623.36,309.33 L623.53,309.32 L623.69,309.32 L623.85,309.31 L624.02,309.31 L624.18,309.30 L624.34,309.29 L624.50,309.29 L624.67,309.28 L624.83,309.28 L624.99,309.27 L625.16,309.27 L625.32,309.26 L625.48,309.25 L625.65,309.25 L625.81,309.24 L625.97,309.24 L626.13,309.23 L626.30,309.23 L626.46,309.22 L626.62,309.22 L626.79,309.21 L626.95,309.21 L627.11,309.20 L627.28,309.20 L627.44,309.19 L627.60,309.18 L627.76,309.18 L627.93,309.17 L628.09,309.17 L628.25,309.16 L628.42,309.16 L628.58,309.15 L628.74,309.15 L628.91,309.14 L629.07,309.14 L629.23,309.13 L629.39,309.13 L629.56,309.12 L629.72,309.12 L629.88,309.11 L630.05,309.11 L630.21,309.10 L630.37,309.10 L630.54,309.09 L630.70,309.09 L630.86,309.08 L631.02,309.08 L631.19,309.07 L631.35,309.07 L631.51,309.06 L631.68,309.06 L631.84,309.05 L632.00,309.05 L632.17,309.04 L632.33,309.04 L632.49,309.04 L632.65,309.03 L632.82,309.03 L632.98,309.02 L633.14,309.02 L633.31,309.01 L633.47,309.01 L633.63,309.00 L633.80,309.00 L633.96,308.99 L634.12,308.99 L634.28,308.98 L634.45,308.98 L634.61,308.98 L634.77,308.97 L634.94,308.97 L635.10,308.96 L635.26,308.96 L635.43,308.95 L635.59,308.95 L635.75,308.94 L635.91,308.94 L636.08,308.93 L636.24,308.93 L636.40,308.93 L636.57,308.92 L636.73,308.92 L636.89,308.91 L637.06,308.91 L637.22,308.90 L637.38,308.90 L637.54,308.90 L637.71,308.89 L637.87,308.89 L638.03,308.88 L638.20,308.88 L638.36,308.87 L638.52,308.87 L638.69,308.87 L638.85,308.86 L639.01,308.86 L639.17,308.85 L639.34,308.85 L639.50,308.85 L639.66,308.84 L639.83,308.84 L639.99,308.83 L640.15,308.83 L640.32,308.82 L640.48,308.82 L640.64,308.82 L640.80,308.81 L640.97,308.81 L641.13,308.80 L641.29,308.80 L641.46,308.80 L641.62,308.79 L641.78,308.79 L641.95,308.78 L642.11,308.78 L642.27,308.78 L642.43,308.77 L642.60,308.77 L642.76,308.77 L642.92,308.76 L643.09,308.76 L643.25,308.75 L643.41,308.75 L643.58,308.75 L643.74,308.74 L643.90,308.74 L644.07,308.73 L644.23,308.73 L644.39,308.73 L644.55,308.72 L644.72,308.72 L644.88,308.72 L645.04,308.71 L645.21,308.71 L645.37,308.70 L645.53,308.70 L645.69,308.70 L645.86,308.69 L646.02,308.69 L646.18,308.69 L646.35,308.68 L646.51,308.68 L646.67,308.68 L646.84,308.67 L647.00,308.67 L647.16,308.66 L647.33,308.66 L647.49,308.66 L647.65,308.65 L647.81,308.65 L647.98,308.65 L648.14,308.64 L648.30,308.64 L648.47,308.64 L648.63,308.63 L648.79,308.63 L648.95,308.63 L649.12,308.62 L649.28,308.62 L649.44,308.62 L649.61,308.61 L649.77,308.61 L649.93,308.61 L650.10,308.60 L650.26,308.60 L650.42,308.60 L650.59,308.59 L650.75,308.59 L650.91,308.59 L651.07,308.58 L651.24,308.58 L651.40,308.58 L651.56,308.57 L651.73,308.57 L651.89,308.57 L652.05,308.56 L652.22,308.56 L652.38,308.56 L652.54,308.55 L652.70,308.55 L652.87,308.55 L653.03,308.54 L653.19,308.54 L653.36,308.54 L653.52,308.53 L653.68,308.53 L653.85,308.53 L654.01,308.52 L654.17,308.52 L654.33,308.52 L654.50,308.51 L654.66,308.51 L654.82,308.51 L654.99,308.50 L655.15,308.50 L655.31,308.50 L655.48,308.50 L655.64,308.49 L655.80,308.49 L655.96,308.49 L656.13,308.48 L656.29,308.48 L656.45,308.48 L656.62,308.47 L656.78,308.47 L656.94,308.47 L657.11,308.46 L657.27,308.46 L657.43,308.46 L657.59,308.46 L657.76,308.45 L657.92,308.45 L658.08,308.45 L658.25,308.44 L658.41,308.44 L658.57,308.44 L658.74,308.43 L658.90,308.43 L659.06,308.43 L659.22,308.43 L659.39,308.42 L659.55,308.42 L659.71,308.42 L659.88,308.41 L660.04,308.41 L660.20,308.41 L660.37,308.41 L660.53,308.40 L660.69,308.40 L660.85,308.40 L661.02,308.39 L661.18,308.39 L661.34,308.39 L661.51,308.39 L661.67,308.38 L661.83,308.38 L662.00,308.38 L662.16,308.37 L662.32,308.37 L662.48,308.37 L662.65,308.37 L662.81,308.36 L662.97,308.36 L663.14,308.36 L663.30,308.36 L663.46,308.35 L663.62,308.35 L663.79,308.35 L663.95,308.34 L664.11,308.34 L664.28,308.34 L664.44,308.34 L664.60,308.33 L664.77,308.33 L664.93,308.33 L665.09,308.33 L665.25,308.32 L665.42,308.32 L665.58,308.32 L665.74,308.32 L665.91,308.31 L666.07,308.31 L666.23,308.31 L666.40,308.30 L666.56,308.30 L666.72,308.30 L666.88,308.30 L667.05,308.29 L667.21,308.29 L667.37,308.29 L667.54,308.29 L667.70,308.28" fill="none" stroke="#ff2020" stroke-width="1.1"/>
<line x1="570.9" y1="203.7" x2="591.4" y2="203.7" stroke="#2020ff" stroke-width="1"/>
<line x1="570.9" y1="222.6" x2="591.4" y2="222.6" stroke="#222" stroke-width="1" stroke-dasharray="4.7 3"/>
<line x1="570.9" y1="240.6" x2="591.4" y2="240.6" stroke="#ff2020" stroke-width="1" stroke-dasharray="3.2 1.8 1.2 1.8"/>
<text x="595.3" y="205.9" font-size="13.3" fill="#2020ff" stroke="#2020ff" stroke-width="0.22" font-family="Liberation Sans, sans-serif">critical (<tspan font-family="Liberation Serif, serif">Λ</tspan><tspan dy="6.3" font-size="10">0</tspan><tspan dy="-6.3">)</tspan></text>
<text x="595.3" y="225.0" font-size="13.3" fill="#111" stroke="#111" stroke-width="0.22" font-family="Liberation Sans, sans-serif">under (<tspan font-family="Liberation Serif, serif">Λ</tspan><tspan dy="6.3" font-size="10">+</tspan><tspan dy="-6.3">)</tspan></text>
<text x="595.3" y="243.0" font-size="13.3" fill="#ff2020" stroke="#ff2020" stroke-width="0.22" font-family="Liberation Sans, sans-serif">over (<tspan font-family="Liberation Serif, serif">Λ</tspan><tspan dy="6.3" font-size="10">-</tspan><tspan dy="-6.3">)</tspan></text>
</svg></body></html>
